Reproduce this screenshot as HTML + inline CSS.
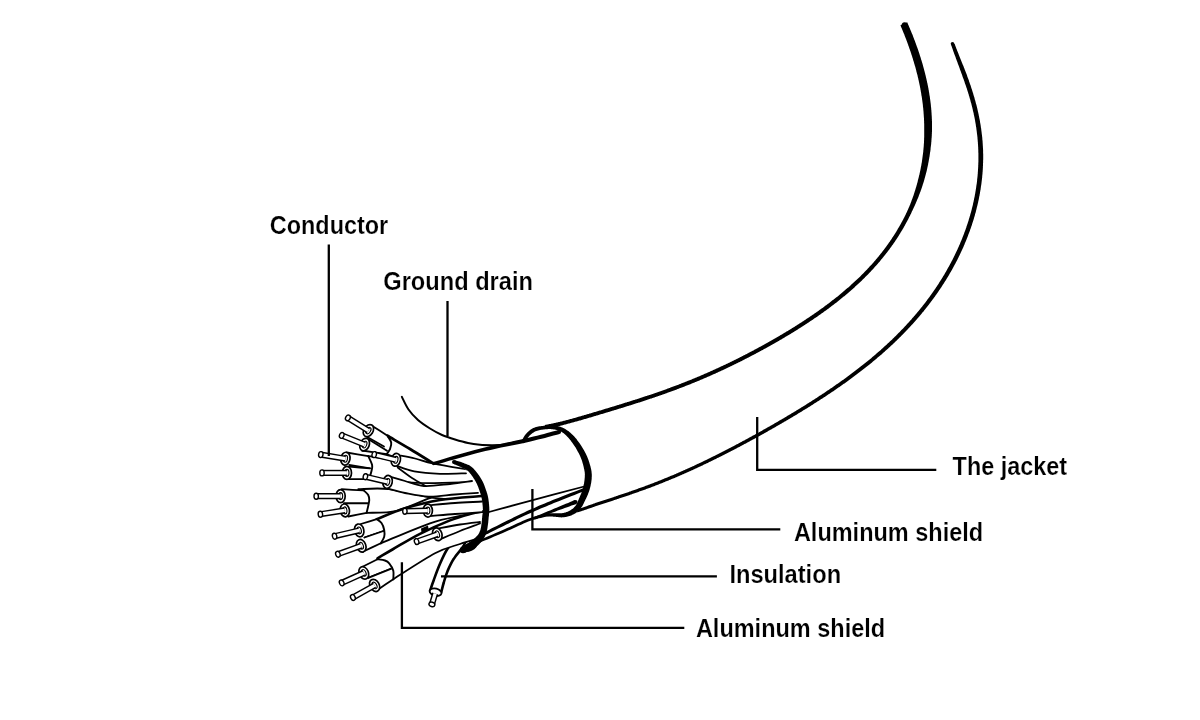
<!DOCTYPE html>
<html><head><meta charset="utf-8"><style>
html,body{margin:0;padding:0;background:#fff;width:1200px;height:720px;overflow:hidden}
svg{display:block;will-change:transform}
text{font-family:"Liberation Sans",sans-serif;font-weight:bold;font-size:25.5px;fill:#000;stroke:#fff;stroke-width:0.2px}
</style></head><body>
<svg width="1200" height="720" viewBox="0 0 1200 720">
<path d="M900.4 25.2 L900.6 25.6 L900.8 26.1 L901.0 26.7 L901.3 27.4 L901.6 28.1 L901.9 28.8 L902.2 29.6 L902.6 30.4 L902.9 31.2 L903.2 32.0 L903.5 32.7 L903.8 33.4 L904.1 34.1 L904.4 34.8 L904.6 35.5 L904.9 36.2 L905.2 36.9 L905.4 37.6 L905.7 38.3 L906.0 39.0 L906.3 39.7 L906.5 40.4 L906.8 41.1 L907.0 41.8 L907.3 42.5 L907.6 43.2 L907.8 43.9 L908.1 44.6 L908.3 45.4 L908.6 46.1 L908.8 46.8 L909.1 47.5 L909.3 48.2 L909.6 48.9 L909.8 49.6 L910.1 50.4 L910.3 51.1 L910.6 51.8 L910.8 52.5 L911.1 53.2 L911.3 54.0 L911.5 54.7 L911.8 55.4 L912.0 56.1 L912.2 56.8 L912.4 57.6 L912.7 58.3 L912.9 59.0 L913.1 59.7 L913.3 60.5 L913.6 61.2 L913.8 61.9 L914.0 62.6 L914.2 63.4 L914.4 64.1 L914.6 64.8 L914.8 65.6 L915.1 66.3 L915.3 67.0 L915.5 67.7 L915.7 68.5 L915.9 69.2 L916.1 69.9 L916.3 70.7 L916.4 71.4 L916.6 72.1 L916.8 72.9 L917.0 73.6 L917.2 74.3 L917.4 75.1 L917.6 75.8 L917.7 76.5 L917.9 77.3 L918.1 78.0 L918.3 78.7 L918.4 79.5 L918.6 80.2 L918.8 80.9 L918.9 81.7 L919.1 82.4 L919.2 83.1 L919.4 83.9 L919.5 84.6 L919.7 85.3 L919.8 86.1 L920.0 86.8 L920.1 87.5 L920.3 88.3 L920.4 89.0 L920.5 89.8 L920.7 90.5 L920.8 91.2 L920.9 92.0 L921.1 92.7 L921.2 93.4 L921.3 94.2 L921.4 94.9 L921.5 95.7 L921.7 96.4 L921.8 97.1 L921.9 97.9 L922.0 98.6 L922.1 99.4 L922.2 100.1 L922.3 100.8 L922.4 101.6 L922.5 102.3 L922.6 103.1 L922.7 103.8 L922.8 104.5 L922.9 105.3 L922.9 106.0 L923.0 106.8 L923.1 107.5 L923.2 108.2 L923.3 109.0 L923.3 109.7 L923.4 110.5 L923.5 111.2 L923.5 111.9 L923.6 112.7 L923.6 113.4 L923.7 114.2 L923.7 114.9 L923.8 115.7 L923.8 116.4 L923.9 117.1 L923.9 117.9 L924.0 118.6 L924.0 119.4 L924.0 120.1 L924.1 120.9 L924.1 121.6 L924.1 122.3 L924.1 123.1 L924.2 123.8 L924.2 124.6 L924.2 125.3 L924.2 126.1 L924.2 126.8 L924.2 127.5 L924.2 128.3 L924.2 129.0 L924.2 129.8 L924.2 130.5 L924.2 131.3 L924.2 132.0 L924.2 132.7 L924.2 133.5 L924.2 134.2 L924.2 135.0 L924.2 135.7 L924.2 136.5 L924.2 137.2 L924.1 138.0 L924.1 138.7 L924.1 139.4 L924.1 140.2 L924.0 140.9 L924.0 141.7 L924.0 142.4 L923.9 143.2 L923.9 143.9 L923.8 144.6 L923.8 145.4 L923.7 146.1 L923.7 146.9 L923.6 147.6 L923.5 148.4 L923.5 149.1 L923.4 149.8 L923.3 150.6 L923.3 151.3 L923.2 152.1 L923.1 152.8 L923.0 153.6 L922.9 154.3 L922.8 155.0 L922.7 155.8 L922.6 156.5 L922.5 157.3 L922.4 158.0 L922.3 158.7 L922.2 159.5 L922.1 160.2 L922.0 161.0 L921.9 161.7 L921.8 162.4 L921.6 163.2 L921.5 163.9 L921.4 164.6 L921.3 165.4 L921.1 166.1 L921.0 166.9 L920.8 167.6 L920.7 168.3 L920.6 169.1 L920.4 169.8 L920.3 170.5 L920.1 171.3 L919.9 172.0 L919.8 172.7 L919.6 173.5 L919.5 174.2 L919.3 174.9 L919.1 175.6 L918.9 176.4 L918.8 177.1 L918.6 177.8 L918.4 178.6 L918.2 179.3 L918.0 180.0 L917.8 180.7 L917.7 181.5 L917.5 182.2 L917.3 182.9 L917.1 183.6 L916.9 184.4 L916.7 185.1 L916.5 185.8 L916.3 186.5 L916.1 187.3 L915.8 188.0 L915.6 188.7 L915.4 189.4 L915.2 190.1 L915.0 190.9 L914.7 191.6 L914.5 192.3 L914.3 193.0 L914.0 193.7 L913.8 194.4 L913.6 195.2 L913.3 195.9 L913.1 196.6 L912.8 197.3 L912.6 198.0 L912.3 198.7 L912.0 199.4 L911.8 200.1 L911.5 200.8 L911.3 201.5 L911.0 202.2 L910.7 202.9 L910.4 203.7 L910.2 204.4 L909.9 205.1 L909.6 205.8 L909.3 206.5 L909.0 207.2 L908.7 207.8 L908.4 208.5 L908.1 209.2 L907.8 209.9 L907.5 210.6 L907.2 211.3 L906.9 212.0 L906.5 212.7 L906.2 213.3 L905.9 214.0 L905.6 214.7 L905.2 215.4 L904.9 216.1 L904.6 216.7 L904.2 217.4 L903.9 218.1 L903.5 218.7 L903.2 219.4 L902.8 220.1 L902.5 220.7 L902.1 221.4 L901.7 222.1 L901.4 222.7 L901.0 223.4 L900.7 224.1 L900.3 224.7 L899.9 225.4 L899.5 226.0 L899.2 226.7 L898.8 227.3 L898.4 228.0 L898.0 228.6 L897.6 229.3 L897.3 229.9 L896.9 230.6 L896.5 231.2 L896.1 231.9 L895.7 232.5 L895.3 233.2 L894.9 233.8 L894.5 234.4 L894.1 235.1 L893.7 235.7 L893.3 236.3 L892.8 237.0 L892.4 237.6 L892.0 238.2 L891.6 238.9 L891.2 239.5 L890.8 240.1 L890.3 240.7 L889.9 241.4 L889.5 242.0 L889.0 242.6 L888.6 243.2 L888.2 243.8 L887.7 244.4 L887.3 245.1 L886.8 245.7 L886.4 246.3 L886.0 246.9 L885.5 247.5 L885.1 248.1 L884.6 248.7 L884.2 249.3 L883.7 249.9 L883.2 250.5 L882.8 251.1 L882.3 251.7 L881.9 252.3 L881.4 252.9 L880.9 253.5 L880.4 254.1 L880.0 254.7 L879.5 255.2 L879.0 255.8 L878.6 256.4 L878.1 257.0 L877.6 257.6 L877.1 258.2 L876.6 258.7 L876.1 259.3 L875.6 259.9 L875.2 260.4 L874.7 261.0 L874.2 261.6 L873.7 262.2 L873.2 262.7 L872.7 263.3 L872.2 263.9 L871.7 264.4 L871.2 265.0 L870.7 265.5 L870.1 266.1 L869.6 266.6 L869.1 267.2 L868.6 267.7 L868.1 268.3 L867.6 268.8 L867.1 269.4 L866.5 269.9 L866.0 270.5 L865.5 271.0 L865.0 271.6 L864.5 272.1 L863.9 272.7 L863.4 273.2 L862.9 273.7 L862.3 274.3 L861.8 274.8 L861.3 275.3 L860.7 275.9 L860.2 276.4 L859.7 276.9 L859.1 277.4 L858.6 278.0 L858.0 278.5 L857.5 279.0 L856.9 279.5 L856.4 280.0 L855.8 280.6 L855.3 281.1 L854.7 281.6 L854.2 282.1 L853.6 282.6 L853.1 283.1 L852.5 283.6 L852.0 284.1 L851.4 284.6 L850.8 285.1 L850.3 285.7 L849.7 286.2 L849.1 286.7 L848.6 287.2 L848.0 287.7 L847.4 288.1 L846.9 288.6 L846.3 289.1 L845.7 289.6 L845.1 290.1 L844.6 290.6 L844.0 291.1 L843.4 291.6 L842.8 292.1 L842.3 292.6 L841.7 293.0 L841.1 293.5 L840.5 294.0 L839.9 294.5 L839.3 295.0 L838.8 295.4 L838.2 295.9 L837.6 296.4 L837.0 296.9 L836.4 297.3 L835.8 297.8 L835.2 298.3 L834.6 298.7 L834.0 299.2 L833.4 299.7 L832.8 300.1 L832.2 300.6 L831.6 301.1 L831.0 301.5 L830.4 302.0 L829.8 302.4 L829.2 302.9 L828.6 303.4 L828.0 303.8 L827.4 304.3 L826.8 304.7 L826.2 305.2 L825.6 305.6 L825.0 306.1 L824.4 306.5 L823.8 307.0 L823.2 307.4 L822.6 307.9 L821.9 308.3 L821.3 308.7 L820.7 309.2 L820.1 309.6 L819.5 310.1 L818.9 310.5 L818.3 310.9 L817.6 311.4 L817.0 311.8 L816.4 312.2 L815.8 312.7 L815.2 313.1 L814.5 313.5 L813.9 314.0 L813.3 314.4 L812.7 314.8 L812.0 315.3 L811.4 315.7 L810.8 316.1 L810.2 316.5 L809.5 317.0 L808.9 317.4 L808.3 317.8 L807.6 318.2 L807.0 318.6 L806.4 319.1 L805.7 319.5 L805.1 319.9 L804.5 320.3 L803.8 320.7 L803.2 321.2 L802.6 321.6 L801.9 322.0 L801.3 322.4 L800.7 322.8 L800.0 323.2 L799.4 323.6 L798.7 324.0 L798.1 324.4 L797.5 324.8 L796.8 325.3 L796.2 325.7 L795.5 326.1 L794.9 326.5 L794.3 326.9 L793.6 327.3 L793.0 327.7 L792.3 328.1 L791.7 328.5 L791.0 328.9 L790.4 329.3 L789.7 329.7 L789.1 330.1 L788.4 330.5 L787.8 330.9 L787.1 331.2 L786.5 331.6 L785.8 332.0 L785.2 332.4 L784.5 332.8 L783.9 333.2 L783.2 333.6 L782.6 334.0 L781.9 334.4 L781.3 334.8 L780.6 335.1 L780.0 335.5 L779.3 335.9 L778.7 336.3 L778.0 336.7 L777.4 337.1 L776.7 337.4 L776.0 337.8 L775.4 338.2 L774.7 338.6 L774.1 339.0 L773.4 339.3 L772.7 339.7 L772.1 340.1 L771.4 340.5 L770.8 340.8 L770.1 341.2 L769.4 341.6 L768.8 342.0 L768.1 342.3 L767.5 342.7 L766.8 343.1 L766.1 343.5 L765.5 343.8 L764.8 344.2 L764.1 344.6 L763.5 344.9 L762.8 345.3 L762.1 345.7 L761.5 346.0 L760.8 346.4 L760.1 346.8 L759.5 347.1 L758.8 347.5 L758.1 347.8 L757.5 348.2 L756.8 348.6 L756.1 348.9 L755.5 349.3 L754.8 349.6 L754.1 350.0 L753.5 350.4 L752.8 350.7 L752.1 351.1 L751.4 351.4 L750.8 351.8 L750.1 352.1 L749.4 352.5 L748.7 352.8 L748.1 353.2 L747.4 353.5 L746.7 353.9 L746.1 354.2 L745.4 354.6 L744.7 354.9 L744.0 355.3 L743.4 355.6 L742.7 356.0 L742.0 356.3 L741.3 356.7 L740.6 357.0 L740.0 357.3 L739.3 357.7 L738.6 358.0 L737.9 358.4 L737.2 358.7 L736.6 359.0 L735.9 359.4 L735.2 359.7 L734.5 360.1 L733.8 360.4 L733.2 360.7 L732.5 361.1 L731.8 361.4 L731.1 361.7 L730.4 362.1 L729.8 362.4 L729.1 362.7 L728.4 363.0 L727.7 363.4 L727.0 363.7 L726.3 364.0 L725.6 364.4 L725.0 364.7 L724.3 365.0 L723.6 365.3 L722.9 365.7 L722.2 366.0 L721.5 366.3 L720.8 366.6 L720.2 366.9 L719.5 367.3 L718.8 367.6 L718.1 367.9 L717.4 368.2 L716.7 368.5 L716.0 368.8 L715.3 369.2 L714.6 369.5 L714.0 369.8 L713.3 370.1 L712.6 370.4 L711.9 370.7 L711.2 371.0 L710.5 371.3 L709.8 371.7 L709.1 372.0 L708.4 372.3 L707.7 372.6 L707.0 372.9 L706.3 373.2 L705.6 373.5 L704.9 373.8 L704.2 374.1 L703.5 374.4 L702.8 374.7 L702.2 375.0 L701.5 375.3 L700.8 375.6 L700.1 375.9 L699.4 376.2 L698.7 376.5 L698.0 376.8 L697.3 377.1 L696.6 377.4 L695.9 377.6 L695.2 377.9 L694.5 378.2 L693.8 378.5 L693.1 378.8 L692.4 379.1 L691.7 379.4 L691.0 379.7 L690.3 379.9 L689.6 380.2 L688.9 380.5 L688.1 380.8 L687.4 381.1 L686.7 381.4 L686.0 381.6 L685.3 381.9 L684.6 382.2 L683.9 382.5 L683.2 382.8 L682.5 383.0 L681.8 383.3 L681.1 383.6 L680.4 383.9 L679.7 384.1 L679.0 384.4 L678.3 384.7 L677.6 384.9 L676.8 385.2 L676.1 385.5 L675.4 385.7 L674.7 386.0 L674.0 386.3 L673.3 386.5 L672.6 386.8 L671.9 387.1 L671.2 387.3 L670.5 387.6 L669.7 387.9 L669.0 388.1 L668.3 388.4 L667.6 388.6 L666.9 388.9 L666.2 389.2 L665.5 389.4 L664.8 389.7 L664.0 389.9 L663.3 390.2 L662.6 390.4 L661.9 390.7 L661.2 390.9 L660.5 391.2 L659.7 391.4 L659.0 391.7 L658.3 391.9 L657.6 392.2 L656.9 392.4 L656.2 392.7 L655.4 392.9 L654.7 393.2 L654.0 393.4 L653.3 393.7 L652.6 393.9 L651.9 394.2 L651.1 394.4 L650.4 394.7 L649.7 394.9 L649.0 395.1 L648.3 395.4 L647.5 395.6 L646.8 395.9 L646.1 396.1 L645.4 396.3 L644.7 396.6 L643.9 396.8 L643.2 397.0 L642.5 397.3 L641.8 397.5 L641.0 397.8 L640.3 398.0 L639.6 398.2 L638.9 398.5 L638.2 398.7 L637.4 398.9 L636.7 399.2 L636.0 399.4 L635.3 399.6 L634.5 399.9 L633.8 400.1 L633.1 400.3 L632.4 400.5 L631.6 400.8 L630.9 401.0 L630.2 401.2 L629.5 401.5 L628.7 401.7 L628.0 401.9 L627.3 402.1 L626.6 402.4 L625.8 402.6 L625.1 402.8 L624.4 403.1 L623.7 403.3 L622.9 403.5 L622.2 403.7 L621.5 404.0 L620.7 404.2 L620.0 404.4 L619.3 404.6 L618.6 404.9 L617.8 405.1 L617.1 405.3 L616.4 405.5 L615.7 405.7 L614.9 406.0 L614.2 406.2 L613.5 406.4 L612.7 406.6 L612.0 406.9 L611.3 407.1 L610.6 407.3 L609.8 407.5 L609.1 407.7 L608.4 408.0 L607.6 408.2 L606.9 408.4 L606.2 408.6 L605.5 408.8 L604.7 409.1 L604.0 409.3 L603.3 409.5 L602.5 409.7 L601.8 409.9 L601.1 410.2 L600.4 410.4 L599.6 410.6 L598.9 410.8 L598.2 411.0 L597.4 411.3 L596.7 411.5 L596.0 411.7 L595.3 411.9 L594.5 412.1 L593.8 412.3 L593.1 412.6 L592.3 412.8 L591.6 413.0 L590.9 413.2 L590.1 413.4 L589.4 413.6 L588.7 413.9 L588.0 414.1 L587.2 414.3 L586.5 414.5 L585.8 414.7 L585.0 414.9 L584.3 415.1 L583.6 415.4 L582.8 415.6 L582.1 415.8 L581.4 416.0 L580.7 416.2 L579.9 416.4 L579.2 416.6 L578.5 416.8 L577.7 417.0 L577.0 417.3 L576.3 417.5 L575.5 417.7 L574.8 417.9 L574.1 418.1 L573.4 418.3 L572.6 418.5 L571.9 418.7 L571.2 418.9 L570.4 419.1 L569.7 419.3 L569.0 419.5 L568.2 419.7 L567.5 419.9 L566.8 420.1 L566.0 420.3 L565.3 420.5 L564.6 420.7 L563.8 420.8 L563.1 421.0 L562.4 421.2 L561.7 421.4 L560.9 421.6 L560.2 421.8 L559.4 421.9 L558.7 422.1 L558.0 422.3 L557.2 422.5 L556.5 422.6 L555.8 422.8 L555.0 423.0 L554.3 423.1 L553.6 423.3 L552.8 423.5 L552.0 423.6 L551.2 423.8 L550.3 424.0 L549.4 424.1 L548.6 424.3 L547.8 424.5 L547.0 424.6 L546.3 424.7 L545.6 424.8 L545.1 425.0 L544.7 425.0 L545.4 428.9 L545.8 428.8 L546.4 428.7 L547.0 428.6 L547.7 428.4 L548.5 428.3 L549.3 428.1 L550.2 428.0 L551.0 427.8 L551.9 427.6 L552.8 427.5 L553.6 427.3 L554.4 427.1 L555.1 427.0 L555.9 426.8 L556.6 426.6 L557.4 426.4 L558.1 426.3 L558.9 426.1 L559.6 425.9 L560.4 425.7 L561.1 425.6 L561.9 425.4 L562.6 425.2 L563.3 425.0 L564.1 424.8 L564.8 424.6 L565.6 424.4 L566.3 424.2 L567.0 424.0 L567.8 423.8 L568.5 423.6 L569.3 423.4 L570.0 423.3 L570.7 423.1 L571.5 422.8 L572.2 422.6 L572.9 422.4 L573.7 422.2 L574.4 422.0 L575.1 421.8 L575.9 421.6 L576.6 421.4 L577.3 421.2 L578.1 421.0 L578.8 420.8 L579.5 420.6 L580.3 420.4 L581.0 420.2 L581.7 420.0 L582.5 419.7 L583.2 419.5 L583.9 419.3 L584.7 419.1 L585.4 418.9 L586.1 418.7 L586.9 418.5 L587.6 418.2 L588.3 418.0 L589.1 417.8 L589.8 417.6 L590.5 417.4 L591.3 417.2 L592.0 417.0 L592.7 416.7 L593.4 416.5 L594.2 416.3 L594.9 416.1 L595.6 415.9 L596.4 415.6 L597.1 415.4 L597.8 415.2 L598.6 415.0 L599.3 414.8 L600.0 414.6 L600.7 414.3 L601.5 414.1 L602.2 413.9 L602.9 413.7 L603.7 413.5 L604.4 413.2 L605.1 413.0 L605.9 412.8 L606.6 412.6 L607.3 412.4 L608.0 412.1 L608.8 411.9 L609.5 411.7 L610.2 411.5 L611.0 411.3 L611.7 411.0 L612.4 410.8 L613.2 410.6 L613.9 410.4 L614.6 410.1 L615.3 409.9 L616.1 409.7 L616.8 409.5 L617.5 409.3 L618.3 409.0 L619.0 408.8 L619.7 408.6 L620.4 408.4 L621.2 408.1 L621.9 407.9 L622.6 407.7 L623.4 407.5 L624.1 407.2 L624.8 407.0 L625.5 406.8 L626.3 406.6 L627.0 406.3 L627.7 406.1 L628.4 405.9 L629.2 405.6 L629.9 405.4 L630.6 405.2 L631.4 405.0 L632.1 404.7 L632.8 404.5 L633.5 404.3 L634.3 404.0 L635.0 403.8 L635.7 403.6 L636.4 403.3 L637.2 403.1 L637.9 402.9 L638.6 402.6 L639.4 402.4 L640.1 402.2 L640.8 401.9 L641.5 401.7 L642.3 401.5 L643.0 401.2 L643.7 401.0 L644.4 400.8 L645.2 400.5 L645.9 400.3 L646.6 400.0 L647.3 399.8 L648.0 399.6 L648.8 399.3 L649.5 399.1 L650.2 398.8 L650.9 398.6 L651.7 398.4 L652.4 398.1 L653.1 397.9 L653.8 397.6 L654.6 397.4 L655.3 397.1 L656.0 396.9 L656.7 396.6 L657.4 396.4 L658.2 396.1 L658.9 395.9 L659.6 395.6 L660.3 395.4 L661.0 395.1 L661.8 394.9 L662.5 394.6 L663.2 394.4 L663.9 394.1 L664.6 393.9 L665.4 393.6 L666.1 393.4 L666.8 393.1 L667.5 392.8 L668.2 392.6 L668.9 392.3 L669.7 392.1 L670.4 391.8 L671.1 391.5 L671.8 391.3 L672.5 391.0 L673.2 390.7 L674.0 390.5 L674.7 390.2 L675.4 389.9 L676.1 389.7 L676.8 389.4 L677.5 389.1 L678.2 388.9 L678.9 388.6 L679.7 388.3 L680.4 388.1 L681.1 387.8 L681.8 387.5 L682.5 387.2 L683.2 387.0 L683.9 386.7 L684.6 386.4 L685.4 386.1 L686.1 385.8 L686.8 385.6 L687.5 385.3 L688.2 385.0 L688.9 384.7 L689.6 384.4 L690.3 384.2 L691.0 383.9 L691.7 383.6 L692.4 383.3 L693.1 383.0 L693.8 382.7 L694.6 382.4 L695.3 382.1 L696.0 381.9 L696.7 381.6 L697.4 381.3 L698.1 381.0 L698.8 380.7 L699.5 380.4 L700.2 380.1 L700.9 379.8 L701.6 379.5 L702.3 379.2 L703.0 378.9 L703.7 378.6 L704.4 378.3 L705.1 378.0 L705.8 377.7 L706.5 377.4 L707.2 377.1 L707.9 376.8 L708.6 376.5 L709.3 376.2 L710.0 375.9 L710.7 375.6 L711.4 375.3 L712.1 374.9 L712.8 374.6 L713.5 374.3 L714.2 374.0 L714.9 373.7 L715.6 373.4 L716.3 373.1 L717.0 372.8 L717.7 372.4 L718.4 372.1 L719.0 371.8 L719.7 371.5 L720.4 371.2 L721.1 370.8 L721.8 370.5 L722.5 370.2 L723.2 369.9 L723.9 369.6 L724.6 369.2 L725.3 368.9 L726.0 368.6 L726.7 368.3 L727.3 367.9 L728.0 367.6 L728.7 367.3 L729.4 366.9 L730.1 366.6 L730.8 366.3 L731.5 365.9 L732.2 365.6 L732.9 365.3 L733.5 364.9 L734.2 364.6 L734.9 364.3 L735.6 363.9 L736.3 363.6 L737.0 363.3 L737.6 362.9 L738.3 362.6 L739.0 362.2 L739.7 361.9 L740.4 361.6 L741.1 361.2 L741.7 360.9 L742.4 360.5 L743.1 360.2 L743.8 359.8 L744.5 359.5 L745.2 359.1 L745.8 358.8 L746.5 358.5 L747.2 358.1 L747.9 357.8 L748.5 357.4 L749.2 357.1 L749.9 356.7 L750.6 356.3 L751.3 356.0 L751.9 355.6 L752.6 355.3 L753.3 354.9 L754.0 354.6 L754.6 354.2 L755.3 353.9 L756.0 353.5 L756.7 353.1 L757.3 352.8 L758.0 352.4 L758.7 352.1 L759.4 351.7 L760.0 351.3 L760.7 351.0 L761.4 350.6 L762.0 350.2 L762.7 349.9 L763.4 349.5 L764.1 349.1 L764.7 348.8 L765.4 348.4 L766.1 348.0 L766.7 347.7 L767.4 347.3 L768.1 346.9 L768.7 346.6 L769.4 346.2 L770.1 345.8 L770.7 345.4 L771.4 345.1 L772.1 344.7 L772.7 344.3 L773.4 343.9 L774.1 343.6 L774.7 343.2 L775.4 342.8 L776.0 342.4 L776.7 342.0 L777.4 341.7 L778.0 341.3 L778.7 340.9 L779.4 340.5 L780.0 340.1 L780.7 339.7 L781.3 339.4 L782.0 339.0 L782.7 338.6 L783.3 338.2 L784.0 337.8 L784.6 337.4 L785.3 337.0 L785.9 336.6 L786.6 336.2 L787.3 335.8 L787.9 335.5 L788.6 335.1 L789.2 334.7 L789.9 334.3 L790.5 333.9 L791.2 333.5 L791.8 333.1 L792.5 332.7 L793.1 332.3 L793.8 331.9 L794.4 331.5 L795.1 331.1 L795.7 330.7 L796.4 330.3 L797.0 329.9 L797.7 329.5 L798.3 329.0 L799.0 328.6 L799.6 328.2 L800.3 327.8 L800.9 327.4 L801.5 327.0 L802.2 326.6 L802.8 326.2 L803.5 325.8 L804.1 325.3 L804.8 324.9 L805.4 324.5 L806.0 324.1 L806.7 323.7 L807.3 323.3 L808.0 322.8 L808.6 322.4 L809.2 322.0 L809.9 321.6 L810.5 321.1 L811.1 320.7 L811.8 320.3 L812.4 319.9 L813.0 319.4 L813.7 319.0 L814.3 318.6 L814.9 318.1 L815.6 317.7 L816.2 317.3 L816.8 316.9 L817.4 316.4 L818.1 316.0 L818.7 315.5 L819.3 315.1 L819.9 314.7 L820.6 314.2 L821.2 313.8 L821.8 313.3 L822.4 312.9 L823.1 312.5 L823.7 312.0 L824.3 311.6 L824.9 311.1 L825.5 310.7 L826.2 310.2 L826.8 309.8 L827.4 309.3 L828.0 308.9 L828.6 308.4 L829.2 307.9 L829.8 307.5 L830.5 307.0 L831.1 306.6 L831.7 306.1 L832.3 305.6 L832.9 305.2 L833.5 304.7 L834.1 304.3 L834.7 303.8 L835.3 303.3 L835.9 302.9 L836.5 302.4 L837.1 301.9 L837.7 301.4 L838.3 301.0 L838.9 300.5 L839.5 300.0 L840.1 299.5 L840.7 299.1 L841.3 298.6 L841.9 298.1 L842.5 297.6 L843.1 297.1 L843.7 296.6 L844.3 296.2 L844.9 295.7 L845.4 295.2 L846.0 294.7 L846.6 294.2 L847.2 293.7 L847.8 293.2 L848.4 292.7 L848.9 292.2 L849.5 291.7 L850.1 291.2 L850.7 290.7 L851.2 290.2 L851.8 289.7 L852.4 289.2 L853.0 288.7 L853.5 288.2 L854.1 287.7 L854.7 287.2 L855.2 286.6 L855.8 286.1 L856.4 285.6 L856.9 285.1 L857.5 284.6 L858.1 284.0 L858.6 283.5 L859.2 283.0 L859.7 282.5 L860.3 282.0 L860.8 281.4 L861.4 280.9 L861.9 280.4 L862.5 279.8 L863.0 279.3 L863.6 278.8 L864.1 278.2 L864.7 277.7 L865.2 277.1 L865.8 276.6 L866.3 276.1 L866.8 275.5 L867.4 275.0 L867.9 274.4 L868.4 273.9 L869.0 273.3 L869.5 272.8 L870.0 272.2 L870.6 271.7 L871.1 271.1 L871.6 270.5 L872.1 270.0 L872.6 269.4 L873.2 268.9 L873.7 268.3 L874.2 267.7 L874.7 267.1 L875.2 266.6 L875.7 266.0 L876.2 265.4 L876.7 264.9 L877.3 264.3 L877.8 263.7 L878.3 263.1 L878.8 262.5 L879.3 262.0 L879.8 261.4 L880.3 260.8 L880.7 260.2 L881.2 259.6 L881.7 259.0 L882.2 258.4 L882.7 257.8 L883.2 257.2 L883.7 256.6 L884.1 256.0 L884.6 255.5 L885.1 254.8 L885.6 254.2 L886.1 253.6 L886.5 253.0 L887.0 252.4 L887.5 251.8 L887.9 251.2 L888.4 250.6 L888.9 250.0 L889.3 249.4 L889.8 248.7 L890.2 248.1 L890.7 247.5 L891.1 246.9 L891.6 246.3 L892.0 245.6 L892.5 245.0 L892.9 244.4 L893.4 243.8 L893.8 243.1 L894.2 242.5 L894.7 241.9 L895.1 241.2 L895.5 240.6 L896.0 239.9 L896.4 239.3 L896.8 238.7 L897.2 238.0 L897.6 237.4 L898.1 236.7 L898.5 236.1 L898.9 235.4 L899.3 234.8 L899.7 234.1 L900.1 233.5 L900.5 232.8 L900.9 232.1 L901.3 231.5 L901.7 230.8 L902.1 230.2 L902.5 229.5 L902.9 228.8 L903.3 228.2 L903.7 227.5 L904.0 226.8 L904.4 226.2 L904.8 225.5 L905.2 224.8 L905.5 224.1 L905.9 223.5 L906.3 222.8 L906.6 222.1 L907.0 221.4 L907.4 220.8 L907.7 220.1 L908.1 219.4 L908.4 218.7 L908.8 218.0 L909.1 217.3 L909.5 216.6 L909.8 215.9 L910.2 215.2 L910.5 214.6 L910.8 213.9 L911.2 213.2 L911.5 212.5 L911.8 211.8 L912.1 211.1 L912.5 210.4 L912.8 209.7 L913.1 209.0 L913.5 208.3 L913.8 207.6 L914.1 206.9 L914.4 206.2 L914.8 205.5 L915.1 204.8 L915.4 204.1 L915.7 203.4 L916.0 202.6 L916.3 201.9 L916.6 201.2 L916.9 200.5 L917.2 199.8 L917.5 199.1 L917.8 198.4 L918.1 197.7 L918.4 196.9 L918.7 196.2 L918.9 195.5 L919.2 194.8 L919.5 194.1 L919.8 193.3 L920.0 192.6 L920.3 191.9 L920.6 191.2 L920.8 190.4 L921.1 189.7 L921.4 189.0 L921.6 188.2 L921.9 187.5 L922.1 186.8 L922.4 186.0 L922.6 185.3 L922.8 184.6 L923.1 183.8 L923.3 183.1 L923.5 182.4 L923.8 181.6 L924.0 180.9 L924.2 180.1 L924.4 179.4 L924.6 178.6 L924.8 177.9 L925.0 177.2 L925.2 176.4 L925.4 175.7 L925.6 174.9 L925.8 174.2 L926.0 173.4 L926.2 172.7 L926.4 171.9 L926.6 171.2 L926.8 170.4 L926.9 169.7 L927.1 168.9 L927.3 168.1 L927.4 167.4 L927.6 166.6 L927.8 165.9 L927.9 165.1 L928.1 164.4 L928.2 163.6 L928.4 162.8 L928.5 162.1 L928.7 161.3 L928.8 160.6 L928.9 159.8 L929.1 159.0 L929.2 158.3 L929.3 157.5 L929.5 156.8 L929.6 156.0 L929.7 155.2 L929.8 154.5 L929.9 153.7 L930.0 152.9 L930.1 152.2 L930.3 151.4 L930.4 150.6 L930.5 149.9 L930.6 149.1 L930.6 148.3 L930.7 147.6 L930.8 146.8 L930.9 146.0 L931.0 145.3 L931.1 144.5 L931.2 143.7 L931.2 143.0 L931.3 142.2 L931.4 141.4 L931.4 140.6 L931.5 139.9 L931.5 139.1 L931.6 138.3 L931.7 137.6 L931.7 136.8 L931.8 136.0 L931.8 135.2 L931.8 134.5 L931.9 133.7 L931.9 132.9 L931.9 132.2 L932.0 131.4 L932.0 130.6 L932.0 129.8 L932.0 129.1 L932.0 128.3 L932.0 127.5 L932.0 126.8 L932.0 126.0 L932.0 125.2 L932.0 124.4 L932.0 123.7 L932.0 122.9 L932.0 122.1 L932.0 121.3 L931.9 120.6 L931.9 119.8 L931.9 119.0 L931.8 118.3 L931.8 117.5 L931.8 116.7 L931.7 115.9 L931.7 115.2 L931.6 114.4 L931.6 113.6 L931.5 112.9 L931.5 112.1 L931.4 111.3 L931.4 110.5 L931.3 109.8 L931.2 109.0 L931.2 108.2 L931.1 107.5 L931.0 106.7 L930.9 105.9 L930.9 105.2 L930.8 104.4 L930.7 103.6 L930.6 102.9 L930.5 102.1 L930.4 101.3 L930.3 100.5 L930.2 99.8 L930.1 99.0 L930.0 98.2 L929.9 97.5 L929.8 96.7 L929.7 95.9 L929.5 95.2 L929.4 94.4 L929.3 93.7 L929.2 92.9 L929.0 92.1 L928.9 91.4 L928.8 90.6 L928.6 89.8 L928.5 89.1 L928.4 88.3 L928.2 87.5 L928.1 86.8 L927.9 86.0 L927.8 85.3 L927.6 84.5 L927.5 83.7 L927.3 83.0 L927.1 82.2 L927.0 81.5 L926.8 80.7 L926.6 79.9 L926.5 79.2 L926.3 78.4 L926.1 77.7 L925.9 76.9 L925.8 76.2 L925.6 75.4 L925.4 74.7 L925.2 73.9 L925.0 73.1 L924.8 72.4 L924.6 71.6 L924.4 70.9 L924.2 70.1 L924.0 69.4 L923.8 68.6 L923.6 67.9 L923.4 67.1 L923.2 66.4 L923.0 65.6 L922.8 64.9 L922.6 64.1 L922.4 63.4 L922.1 62.6 L921.9 61.9 L921.7 61.1 L921.5 60.4 L921.2 59.7 L921.0 58.9 L920.8 58.2 L920.6 57.4 L920.3 56.7 L920.1 55.9 L919.8 55.2 L919.6 54.5 L919.4 53.7 L919.1 53.0 L918.9 52.3 L918.6 51.5 L918.4 50.8 L918.1 50.0 L917.9 49.3 L917.6 48.6 L917.3 47.8 L917.1 47.1 L916.8 46.4 L916.6 45.7 L916.3 44.9 L916.0 44.2 L915.8 43.5 L915.5 42.7 L915.2 42.0 L915.0 41.3 L914.7 40.6 L914.4 39.9 L914.1 39.1 L913.9 38.4 L913.6 37.7 L913.3 37.0 L913.0 36.3 L912.8 35.5 L912.5 34.8 L912.2 34.1 L911.9 33.4 L911.6 32.7 L911.3 32.0 L911.0 31.3 L910.7 30.6 L910.4 29.9 L910.1 29.1 L909.8 28.3 L909.4 27.5 L909.1 26.7 L908.8 25.9 L908.4 25.1 L908.1 24.4 L907.8 23.8 L907.6 23.2 L907.4 22.7 L907.2 22.3Z" fill="#000"/>
<path d="M951.2 45.1 L951.3 45.5 L951.5 46.1 L951.8 46.7 L952.0 47.5 L952.3 48.3 L952.6 49.1 L952.9 50.0 L953.2 50.9 L953.5 51.7 L953.8 52.6 L954.1 53.5 L954.4 54.3 L954.7 55.0 L955.0 55.8 L955.3 56.6 L955.6 57.3 L955.8 58.1 L956.1 58.9 L956.4 59.6 L956.7 60.4 L957.0 61.2 L957.3 62.0 L957.6 62.7 L957.8 63.5 L958.1 64.3 L958.4 65.0 L958.7 65.8 L959.0 66.6 L959.3 67.4 L959.6 68.1 L959.8 68.9 L960.1 69.7 L960.4 70.5 L960.7 71.2 L961.0 72.0 L961.2 72.8 L961.5 73.5 L961.8 74.3 L962.1 75.1 L962.4 75.9 L962.6 76.7 L962.9 77.4 L963.2 78.2 L963.5 79.0 L963.8 79.8 L964.0 80.5 L964.3 81.3 L964.6 82.1 L964.8 82.9 L965.1 83.7 L965.4 84.4 L965.7 85.2 L965.9 86.0 L966.2 86.8 L966.4 87.6 L966.7 88.3 L967.0 89.1 L967.2 89.9 L967.5 90.7 L967.7 91.5 L968.0 92.3 L968.2 93.0 L968.4 93.8 L968.7 94.6 L968.9 95.4 L969.2 96.2 L969.4 97.0 L969.6 97.8 L969.8 98.6 L970.1 99.3 L970.3 100.1 L970.5 100.9 L970.7 101.7 L970.9 102.5 L971.2 103.3 L971.4 104.1 L971.6 104.9 L971.8 105.7 L972.0 106.5 L972.2 107.3 L972.4 108.1 L972.6 108.9 L972.8 109.7 L972.9 110.4 L973.1 111.2 L973.3 112.0 L973.5 112.8 L973.7 113.6 L973.8 114.4 L974.0 115.2 L974.2 116.0 L974.3 116.8 L974.5 117.6 L974.7 118.4 L974.8 119.2 L975.0 120.0 L975.1 120.8 L975.2 121.6 L975.4 122.4 L975.5 123.3 L975.7 124.1 L975.8 124.9 L975.9 125.7 L976.0 126.5 L976.2 127.3 L976.3 128.1 L976.4 128.9 L976.5 129.7 L976.6 130.5 L976.7 131.3 L976.8 132.1 L976.9 132.9 L977.0 133.7 L977.1 134.5 L977.2 135.3 L977.3 136.1 L977.4 136.9 L977.5 137.8 L977.5 138.6 L977.6 139.4 L977.7 140.2 L977.7 141.0 L977.8 141.8 L977.9 142.6 L977.9 143.4 L978.0 144.2 L978.0 145.0 L978.1 145.8 L978.1 146.7 L978.2 147.5 L978.2 148.3 L978.2 149.1 L978.3 149.9 L978.3 150.7 L978.3 151.5 L978.3 152.3 L978.4 153.1 L978.4 153.9 L978.4 154.8 L978.4 155.6 L978.4 156.4 L978.4 157.2 L978.4 158.0 L978.4 158.8 L978.4 159.6 L978.4 160.4 L978.4 161.2 L978.4 162.1 L978.3 162.9 L978.3 163.7 L978.3 164.5 L978.2 165.3 L978.2 166.1 L978.2 166.9 L978.1 167.7 L978.1 168.5 L978.0 169.3 L978.0 170.2 L977.9 171.0 L977.9 171.8 L977.8 172.6 L977.8 173.4 L977.7 174.2 L977.6 175.0 L977.6 175.8 L977.5 176.6 L977.4 177.4 L977.3 178.2 L977.2 179.0 L977.1 179.9 L977.1 180.7 L977.0 181.5 L976.9 182.3 L976.8 183.1 L976.7 183.9 L976.5 184.7 L976.4 185.5 L976.3 186.3 L976.2 187.1 L976.1 187.9 L976.0 188.7 L975.8 189.5 L975.7 190.3 L975.6 191.1 L975.4 191.9 L975.3 192.7 L975.2 193.5 L975.0 194.3 L974.9 195.1 L974.7 195.9 L974.6 196.7 L974.4 197.5 L974.2 198.3 L974.1 199.1 L973.9 199.9 L973.7 200.7 L973.6 201.5 L973.4 202.3 L973.2 203.1 L973.0 203.9 L972.9 204.7 L972.7 205.5 L972.5 206.3 L972.3 207.1 L972.1 207.8 L971.9 208.6 L971.7 209.4 L971.5 210.2 L971.3 211.0 L971.1 211.8 L970.9 212.6 L970.6 213.4 L970.4 214.1 L970.2 214.9 L970.0 215.7 L969.7 216.5 L969.5 217.3 L969.3 218.1 L969.0 218.8 L968.8 219.6 L968.6 220.4 L968.3 221.2 L968.1 222.0 L967.8 222.7 L967.6 223.5 L967.3 224.3 L967.1 225.1 L966.8 225.8 L966.5 226.6 L966.3 227.4 L966.0 228.2 L965.7 228.9 L965.5 229.7 L965.2 230.5 L964.9 231.2 L964.6 232.0 L964.3 232.8 L964.1 233.5 L963.8 234.3 L963.5 235.1 L963.2 235.8 L962.9 236.6 L962.6 237.3 L962.3 238.1 L962.0 238.9 L961.7 239.6 L961.4 240.4 L961.0 241.1 L960.7 241.9 L960.4 242.6 L960.1 243.4 L959.8 244.1 L959.5 244.9 L959.1 245.6 L958.8 246.4 L958.5 247.1 L958.1 247.9 L957.8 248.6 L957.5 249.4 L957.1 250.1 L956.8 250.9 L956.4 251.6 L956.1 252.3 L955.7 253.1 L955.4 253.8 L955.0 254.5 L954.7 255.3 L954.3 256.0 L953.9 256.8 L953.6 257.5 L953.2 258.2 L952.8 258.9 L952.5 259.7 L952.1 260.4 L951.7 261.1 L951.3 261.9 L951.0 262.6 L950.6 263.3 L950.2 264.0 L949.8 264.7 L949.4 265.5 L949.0 266.2 L948.6 266.9 L948.2 267.6 L947.8 268.3 L947.4 269.0 L947.0 269.7 L946.6 270.5 L946.2 271.2 L945.8 271.9 L945.4 272.6 L945.0 273.3 L944.6 274.0 L944.2 274.7 L943.7 275.4 L943.3 276.1 L942.9 276.8 L942.5 277.5 L942.0 278.2 L941.6 278.9 L941.2 279.6 L940.7 280.3 L940.3 281.0 L939.9 281.6 L939.4 282.3 L939.0 283.0 L938.6 283.7 L938.1 284.4 L937.7 285.1 L937.2 285.8 L936.8 286.4 L936.3 287.1 L935.9 287.8 L935.4 288.5 L934.9 289.2 L934.5 289.8 L934.0 290.5 L933.5 291.2 L933.1 291.8 L932.6 292.5 L932.1 293.2 L931.7 293.8 L931.2 294.5 L930.7 295.2 L930.2 295.8 L929.8 296.5 L929.3 297.2 L928.8 297.8 L928.3 298.5 L927.8 299.1 L927.3 299.8 L926.9 300.4 L926.4 301.1 L925.9 301.7 L925.4 302.4 L924.9 303.0 L924.4 303.7 L923.9 304.3 L923.4 305.0 L922.9 305.6 L922.4 306.2 L921.9 306.9 L921.3 307.5 L920.8 308.2 L920.3 308.8 L919.8 309.4 L919.3 310.1 L918.8 310.7 L918.3 311.3 L917.7 311.9 L917.2 312.6 L916.7 313.2 L916.2 313.8 L915.6 314.4 L915.1 315.1 L914.6 315.7 L914.0 316.3 L913.5 316.9 L913.0 317.5 L912.4 318.1 L911.9 318.8 L911.4 319.4 L910.8 320.0 L910.3 320.6 L909.7 321.2 L909.2 321.8 L908.6 322.4 L908.1 323.0 L907.5 323.6 L907.0 324.2 L906.4 324.8 L905.9 325.4 L905.3 326.0 L904.8 326.6 L904.2 327.2 L903.7 327.8 L903.1 328.4 L902.5 329.0 L902.0 329.6 L901.4 330.1 L900.8 330.7 L900.3 331.3 L899.7 331.9 L899.1 332.5 L898.5 333.1 L898.0 333.6 L897.4 334.2 L896.8 334.8 L896.2 335.4 L895.7 335.9 L895.1 336.5 L894.5 337.1 L893.9 337.7 L893.3 338.2 L892.7 338.8 L892.2 339.4 L891.6 339.9 L891.0 340.5 L890.4 341.0 L889.8 341.6 L889.2 342.2 L888.6 342.7 L888.0 343.3 L887.4 343.8 L886.8 344.4 L886.2 344.9 L885.6 345.5 L885.0 346.1 L884.4 346.6 L883.8 347.1 L883.2 347.7 L882.6 348.2 L882.0 348.8 L881.4 349.3 L880.8 349.9 L880.2 350.4 L879.5 351.0 L878.9 351.5 L878.3 352.0 L877.7 352.6 L877.1 353.1 L876.5 353.6 L875.8 354.2 L875.2 354.7 L874.6 355.2 L874.0 355.8 L873.4 356.3 L872.7 356.8 L872.1 357.3 L871.5 357.9 L870.9 358.4 L870.2 358.9 L869.6 359.4 L869.0 359.9 L868.3 360.5 L867.7 361.0 L867.1 361.5 L866.4 362.0 L865.8 362.5 L865.2 363.0 L864.5 363.6 L863.9 364.1 L863.3 364.6 L862.6 365.1 L862.0 365.6 L861.3 366.1 L860.7 366.6 L860.0 367.1 L859.4 367.6 L858.8 368.1 L858.1 368.6 L857.5 369.1 L856.8 369.6 L856.2 370.1 L855.5 370.6 L854.9 371.1 L854.2 371.6 L853.6 372.1 L852.9 372.6 L852.2 373.1 L851.6 373.6 L850.9 374.1 L850.3 374.6 L849.6 375.0 L849.0 375.5 L848.3 376.0 L847.6 376.5 L847.0 377.0 L846.3 377.5 L845.7 377.9 L845.0 378.4 L844.3 378.9 L843.7 379.4 L843.0 379.9 L842.3 380.3 L841.7 380.8 L841.0 381.3 L840.3 381.8 L839.7 382.2 L839.0 382.7 L838.3 383.2 L837.7 383.7 L837.0 384.1 L836.3 384.6 L835.6 385.1 L835.0 385.5 L834.3 386.0 L833.6 386.5 L832.9 386.9 L832.3 387.4 L831.6 387.9 L830.9 388.3 L830.2 388.8 L829.6 389.3 L828.9 389.7 L828.2 390.2 L827.5 390.6 L826.8 391.1 L826.2 391.6 L825.5 392.0 L824.8 392.5 L824.1 392.9 L823.4 393.4 L822.7 393.8 L822.1 394.3 L821.4 394.7 L820.7 395.2 L820.0 395.6 L819.3 396.1 L818.6 396.5 L817.9 397.0 L817.2 397.4 L816.6 397.9 L815.9 398.3 L815.2 398.8 L814.5 399.2 L813.8 399.7 L813.1 400.1 L812.4 400.5 L811.7 401.0 L811.0 401.4 L810.3 401.9 L809.6 402.3 L808.9 402.7 L808.2 403.2 L807.6 403.6 L806.9 404.1 L806.2 404.5 L805.5 404.9 L804.8 405.4 L804.1 405.8 L803.4 406.2 L802.7 406.7 L802.0 407.1 L801.3 407.5 L800.6 408.0 L799.9 408.4 L799.2 408.8 L798.5 409.3 L797.8 409.7 L797.1 410.1 L796.4 410.5 L795.7 411.0 L795.0 411.4 L794.3 411.8 L793.6 412.2 L792.9 412.7 L792.1 413.1 L791.4 413.5 L790.7 413.9 L790.0 414.4 L789.3 414.8 L788.6 415.2 L787.9 415.6 L787.2 416.1 L786.5 416.5 L785.8 416.9 L785.1 417.3 L784.4 417.7 L783.7 418.2 L783.0 418.6 L782.3 419.0 L781.5 419.4 L780.8 419.8 L780.1 420.2 L779.4 420.6 L778.7 421.1 L778.0 421.5 L777.3 421.9 L776.6 422.3 L775.9 422.7 L775.1 423.1 L774.4 423.5 L773.7 423.9 L773.0 424.4 L772.3 424.8 L771.6 425.2 L770.9 425.6 L770.2 426.0 L769.4 426.4 L768.7 426.8 L768.0 427.2 L767.3 427.6 L766.6 428.0 L765.9 428.4 L765.1 428.8 L764.4 429.2 L763.7 429.6 L763.0 430.1 L762.3 430.5 L761.6 430.9 L760.8 431.3 L760.1 431.7 L759.4 432.1 L758.7 432.5 L758.0 432.9 L757.3 433.3 L756.5 433.7 L755.8 434.1 L755.1 434.5 L754.4 434.9 L753.7 435.3 L752.9 435.6 L752.2 436.0 L751.5 436.4 L750.8 436.8 L750.1 437.2 L749.3 437.6 L748.6 438.0 L747.9 438.4 L747.2 438.8 L746.4 439.2 L745.7 439.6 L745.0 440.0 L744.3 440.4 L743.5 440.8 L742.8 441.1 L742.1 441.5 L741.4 441.9 L740.6 442.3 L739.9 442.7 L739.2 443.1 L738.5 443.5 L737.7 443.9 L737.0 444.2 L736.3 444.6 L735.6 445.0 L734.8 445.4 L734.1 445.8 L733.4 446.2 L732.7 446.5 L731.9 446.9 L731.2 447.3 L730.5 447.7 L729.7 448.1 L729.0 448.4 L728.3 448.8 L727.6 449.2 L726.8 449.6 L726.1 449.9 L725.4 450.3 L724.6 450.7 L723.9 451.1 L723.2 451.4 L722.4 451.8 L721.7 452.2 L721.0 452.6 L720.2 452.9 L719.5 453.3 L718.8 453.7 L718.0 454.0 L717.3 454.4 L716.6 454.8 L715.8 455.2 L715.1 455.5 L714.4 455.9 L713.6 456.3 L712.9 456.6 L712.2 457.0 L711.4 457.3 L710.7 457.7 L710.0 458.1 L709.2 458.4 L708.5 458.8 L707.7 459.2 L707.0 459.5 L706.3 459.9 L705.5 460.2 L704.8 460.6 L704.0 460.9 L703.3 461.3 L702.6 461.7 L701.8 462.0 L701.1 462.4 L700.3 462.7 L699.6 463.1 L698.9 463.4 L698.1 463.8 L697.4 464.1 L696.6 464.5 L695.9 464.8 L695.1 465.2 L694.4 465.5 L693.7 465.9 L692.9 466.2 L692.2 466.5 L691.4 466.9 L690.7 467.2 L689.9 467.6 L689.2 467.9 L688.4 468.3 L687.7 468.6 L686.9 468.9 L686.2 469.3 L685.4 469.6 L684.7 469.9 L683.9 470.3 L683.2 470.6 L682.4 470.9 L681.7 471.3 L680.9 471.6 L680.2 471.9 L679.4 472.3 L678.7 472.6 L677.9 472.9 L677.2 473.2 L676.4 473.6 L675.7 473.9 L674.9 474.2 L674.2 474.5 L673.4 474.9 L672.6 475.2 L671.9 475.5 L671.1 475.8 L670.4 476.1 L669.6 476.5 L668.9 476.8 L668.1 477.1 L667.3 477.4 L666.6 477.7 L665.8 478.0 L665.1 478.3 L664.3 478.6 L663.5 479.0 L662.8 479.3 L662.0 479.6 L661.2 479.9 L660.5 480.2 L659.7 480.5 L659.0 480.8 L658.2 481.1 L657.4 481.4 L656.7 481.7 L655.9 482.0 L655.1 482.3 L654.4 482.6 L653.6 482.9 L652.8 483.2 L652.1 483.5 L651.3 483.8 L650.5 484.1 L649.8 484.4 L649.0 484.6 L648.2 484.9 L647.4 485.2 L646.7 485.5 L645.9 485.8 L645.1 486.1 L644.4 486.4 L643.6 486.7 L642.8 486.9 L642.0 487.2 L641.3 487.5 L640.5 487.8 L639.7 488.1 L638.9 488.3 L638.2 488.6 L637.4 488.9 L636.6 489.2 L635.8 489.5 L635.1 489.7 L634.3 490.0 L633.5 490.3 L632.7 490.5 L632.0 490.8 L631.2 491.1 L630.4 491.4 L629.6 491.6 L628.8 491.9 L628.1 492.2 L627.3 492.4 L626.5 492.7 L625.7 493.0 L624.9 493.2 L624.2 493.5 L623.4 493.8 L622.6 494.0 L621.8 494.3 L621.0 494.6 L620.3 494.8 L619.5 495.1 L618.7 495.3 L617.9 495.6 L617.1 495.9 L616.4 496.1 L615.6 496.4 L614.8 496.6 L614.0 496.9 L613.2 497.2 L612.4 497.4 L611.7 497.7 L610.9 497.9 L610.1 498.2 L609.3 498.4 L608.5 498.7 L607.7 499.0 L607.0 499.2 L606.2 499.5 L605.4 499.7 L604.6 500.0 L603.8 500.2 L603.0 500.5 L602.3 500.8 L601.5 501.0 L600.7 501.3 L599.9 501.5 L599.1 501.8 L598.3 502.1 L597.6 502.3 L596.8 502.6 L596.0 502.8 L595.2 503.1 L594.4 503.4 L593.7 503.6 L592.9 503.9 L592.1 504.2 L591.3 504.4 L590.5 504.7 L589.7 505.0 L588.9 505.3 L588.1 505.6 L587.2 505.9 L586.5 506.2 L585.7 506.4 L584.9 506.7 L584.2 507.0 L583.5 507.2 L582.8 507.4 L582.2 507.7 L581.5 507.9 L580.9 508.1 L580.3 508.3 L579.7 508.5 L579.1 508.7 L578.6 508.9 L578.0 509.0 L577.6 509.2 L577.2 509.3 L576.8 509.4 L576.5 509.5 L577.5 512.5 L577.8 512.4 L578.1 512.3 L578.5 512.1 L579.0 512.0 L579.5 511.8 L580.1 511.6 L580.6 511.4 L581.2 511.2 L581.9 511.0 L582.5 510.8 L583.2 510.6 L583.8 510.4 L584.5 510.1 L585.2 509.9 L585.9 509.6 L586.7 509.4 L587.5 509.1 L588.3 508.8 L589.1 508.5 L589.9 508.2 L590.7 507.9 L591.5 507.7 L592.3 507.4 L593.1 507.1 L593.9 506.9 L594.7 506.6 L595.4 506.3 L596.2 506.1 L597.0 505.8 L597.8 505.6 L598.5 505.3 L599.3 505.0 L600.1 504.8 L600.9 504.5 L601.7 504.3 L602.5 504.0 L603.2 503.7 L604.0 503.5 L604.8 503.2 L605.6 503.0 L606.4 502.7 L607.1 502.5 L607.9 502.2 L608.7 501.9 L609.5 501.7 L610.3 501.4 L611.1 501.2 L611.9 500.9 L612.6 500.7 L613.4 500.4 L614.2 500.1 L615.0 499.9 L615.8 499.6 L616.6 499.4 L617.3 499.1 L618.1 498.9 L618.9 498.6 L619.7 498.3 L620.5 498.1 L621.3 497.8 L622.0 497.6 L622.8 497.3 L623.6 497.0 L624.4 496.8 L625.2 496.5 L626.0 496.2 L626.7 496.0 L627.5 495.7 L628.3 495.4 L629.1 495.2 L629.9 494.9 L630.7 494.6 L631.4 494.4 L632.2 494.1 L633.0 493.8 L633.8 493.6 L634.6 493.3 L635.3 493.0 L636.1 492.7 L636.9 492.5 L637.7 492.2 L638.5 491.9 L639.2 491.6 L640.0 491.3 L640.8 491.1 L641.6 490.8 L642.4 490.5 L643.1 490.2 L643.9 489.9 L644.7 489.7 L645.5 489.4 L646.2 489.1 L647.0 488.8 L647.8 488.5 L648.6 488.2 L649.3 487.9 L650.1 487.7 L650.9 487.4 L651.7 487.1 L652.4 486.8 L653.2 486.5 L654.0 486.2 L654.8 485.9 L655.5 485.6 L656.3 485.3 L657.1 485.0 L657.8 484.7 L658.6 484.4 L659.4 484.1 L660.1 483.8 L660.9 483.5 L661.7 483.2 L662.4 482.9 L663.2 482.6 L664.0 482.3 L664.7 482.0 L665.5 481.6 L666.3 481.3 L667.0 481.0 L667.8 480.7 L668.6 480.4 L669.3 480.1 L670.1 479.8 L670.9 479.5 L671.6 479.1 L672.4 478.8 L673.1 478.5 L673.9 478.2 L674.7 477.9 L675.4 477.5 L676.2 477.2 L676.9 476.9 L677.7 476.6 L678.5 476.2 L679.2 475.9 L680.0 475.6 L680.7 475.3 L681.5 474.9 L682.2 474.6 L683.0 474.3 L683.8 473.9 L684.5 473.6 L685.3 473.3 L686.0 472.9 L686.8 472.6 L687.5 472.3 L688.3 471.9 L689.0 471.6 L689.8 471.2 L690.5 470.9 L691.3 470.6 L692.0 470.2 L692.8 469.9 L693.5 469.5 L694.3 469.2 L695.0 468.8 L695.8 468.5 L696.5 468.2 L697.3 467.8 L698.0 467.5 L698.8 467.1 L699.5 466.8 L700.3 466.4 L701.0 466.1 L701.8 465.7 L702.5 465.4 L703.2 465.0 L704.0 464.6 L704.7 464.3 L705.5 463.9 L706.2 463.6 L707.0 463.2 L707.7 462.9 L708.5 462.5 L709.2 462.1 L709.9 461.8 L710.7 461.4 L711.4 461.1 L712.2 460.7 L712.9 460.3 L713.6 460.0 L714.4 459.6 L715.1 459.2 L715.9 458.9 L716.6 458.5 L717.3 458.1 L718.1 457.8 L718.8 457.4 L719.5 457.0 L720.3 456.7 L721.0 456.3 L721.8 455.9 L722.5 455.6 L723.2 455.2 L724.0 454.8 L724.7 454.4 L725.4 454.1 L726.2 453.7 L726.9 453.3 L727.6 452.9 L728.4 452.6 L729.1 452.2 L729.8 451.8 L730.6 451.4 L731.3 451.1 L732.0 450.7 L732.8 450.3 L733.5 449.9 L734.2 449.5 L735.0 449.2 L735.7 448.8 L736.4 448.4 L737.1 448.0 L737.9 447.6 L738.6 447.2 L739.3 446.9 L740.1 446.5 L740.8 446.1 L741.5 445.7 L742.2 445.3 L743.0 444.9 L743.7 444.5 L744.4 444.1 L745.2 443.8 L745.9 443.4 L746.6 443.0 L747.3 442.6 L748.1 442.2 L748.8 441.8 L749.5 441.4 L750.2 441.0 L751.0 440.6 L751.7 440.2 L752.4 439.8 L753.1 439.4 L753.9 439.1 L754.6 438.7 L755.3 438.3 L756.0 437.9 L756.8 437.5 L757.5 437.1 L758.2 436.7 L758.9 436.3 L759.6 435.9 L760.4 435.5 L761.1 435.1 L761.8 434.7 L762.5 434.3 L763.2 433.9 L764.0 433.5 L764.7 433.1 L765.4 432.7 L766.1 432.3 L766.8 431.9 L767.6 431.5 L768.3 431.0 L769.0 430.6 L769.7 430.2 L770.4 429.8 L771.2 429.4 L771.9 429.0 L772.6 428.6 L773.3 428.2 L774.0 427.8 L774.7 427.4 L775.5 427.0 L776.2 426.6 L776.9 426.1 L777.6 425.7 L778.3 425.3 L779.0 424.9 L779.7 424.5 L780.5 424.1 L781.2 423.7 L781.9 423.3 L782.6 422.8 L783.3 422.4 L784.0 422.0 L784.7 421.6 L785.5 421.2 L786.2 420.8 L786.9 420.3 L787.6 419.9 L788.3 419.5 L789.0 419.1 L789.7 418.7 L790.4 418.2 L791.1 417.8 L791.8 417.4 L792.6 417.0 L793.3 416.6 L794.0 416.1 L794.7 415.7 L795.4 415.3 L796.1 414.9 L796.8 414.4 L797.5 414.0 L798.2 413.6 L798.9 413.1 L799.6 412.7 L800.3 412.3 L801.0 411.9 L801.7 411.4 L802.4 411.0 L803.1 410.6 L803.8 410.1 L804.5 409.7 L805.3 409.3 L806.0 408.8 L806.7 408.4 L807.4 408.0 L808.1 407.5 L808.8 407.1 L809.5 406.7 L810.2 406.2 L810.9 405.8 L811.6 405.3 L812.3 404.9 L812.9 404.5 L813.6 404.0 L814.3 403.6 L815.0 403.1 L815.7 402.7 L816.4 402.2 L817.1 401.8 L817.8 401.3 L818.5 400.9 L819.2 400.5 L819.9 400.0 L820.6 399.6 L821.3 399.1 L822.0 398.7 L822.7 398.2 L823.4 397.8 L824.0 397.3 L824.7 396.9 L825.4 396.4 L826.1 395.9 L826.8 395.5 L827.5 395.0 L828.2 394.6 L828.9 394.1 L829.6 393.7 L830.2 393.2 L830.9 392.7 L831.6 392.3 L832.3 391.8 L833.0 391.4 L833.7 390.9 L834.3 390.4 L835.0 390.0 L835.7 389.5 L836.4 389.0 L837.1 388.6 L837.7 388.1 L838.4 387.6 L839.1 387.2 L839.8 386.7 L840.4 386.2 L841.1 385.7 L841.8 385.3 L842.5 384.8 L843.1 384.3 L843.8 383.8 L844.5 383.4 L845.2 382.9 L845.8 382.4 L846.5 381.9 L847.2 381.4 L847.8 381.0 L848.5 380.5 L849.2 380.0 L849.8 379.5 L850.5 379.0 L851.2 378.5 L851.8 378.0 L852.5 377.5 L853.2 377.1 L853.8 376.6 L854.5 376.1 L855.1 375.6 L855.8 375.1 L856.5 374.6 L857.1 374.1 L857.8 373.6 L858.4 373.1 L859.1 372.6 L859.7 372.1 L860.4 371.6 L861.1 371.1 L861.7 370.6 L862.4 370.1 L863.0 369.6 L863.7 369.1 L864.3 368.6 L865.0 368.0 L865.6 367.5 L866.2 367.0 L866.9 366.5 L867.5 366.0 L868.2 365.5 L868.8 365.0 L869.5 364.5 L870.1 363.9 L870.7 363.4 L871.4 362.9 L872.0 362.4 L872.7 361.8 L873.3 361.3 L873.9 360.8 L874.6 360.3 L875.2 359.7 L875.8 359.2 L876.5 358.7 L877.1 358.1 L877.7 357.6 L878.3 357.1 L879.0 356.5 L879.6 356.0 L880.2 355.5 L880.8 354.9 L881.5 354.4 L882.1 353.9 L882.7 353.3 L883.3 352.8 L883.9 352.2 L884.6 351.7 L885.2 351.1 L885.8 350.6 L886.4 350.0 L887.0 349.5 L887.6 348.9 L888.2 348.4 L888.8 347.8 L889.5 347.3 L890.1 346.7 L890.7 346.1 L891.3 345.6 L891.9 345.0 L892.5 344.5 L893.1 343.9 L893.7 343.3 L894.3 342.8 L894.9 342.2 L895.5 341.6 L896.1 341.0 L896.7 340.5 L897.2 339.9 L897.8 339.3 L898.4 338.7 L899.0 338.2 L899.6 337.6 L900.2 337.0 L900.8 336.4 L901.4 335.8 L901.9 335.3 L902.5 334.7 L903.1 334.1 L903.7 333.5 L904.2 332.9 L904.8 332.3 L905.4 331.7 L906.0 331.1 L906.5 330.5 L907.1 329.9 L907.7 329.3 L908.2 328.7 L908.8 328.1 L909.4 327.5 L909.9 326.9 L910.5 326.3 L911.0 325.7 L911.6 325.1 L912.2 324.5 L912.7 323.9 L913.3 323.3 L913.8 322.7 L914.4 322.0 L914.9 321.4 L915.5 320.8 L916.0 320.2 L916.6 319.6 L917.1 318.9 L917.6 318.3 L918.2 317.7 L918.7 317.1 L919.3 316.4 L919.8 315.8 L920.3 315.2 L920.9 314.5 L921.4 313.9 L921.9 313.3 L922.4 312.6 L923.0 312.0 L923.5 311.4 L924.0 310.7 L924.5 310.1 L925.0 309.4 L925.6 308.8 L926.1 308.1 L926.6 307.5 L927.1 306.8 L927.6 306.2 L928.1 305.5 L928.6 304.9 L929.1 304.2 L929.6 303.6 L930.1 302.9 L930.6 302.3 L931.1 301.6 L931.6 300.9 L932.1 300.3 L932.6 299.6 L933.1 298.9 L933.6 298.3 L934.1 297.6 L934.6 296.9 L935.1 296.3 L935.5 295.6 L936.0 294.9 L936.5 294.2 L937.0 293.6 L937.4 292.9 L937.9 292.2 L938.4 291.5 L938.9 290.8 L939.3 290.1 L939.8 289.5 L940.3 288.8 L940.7 288.1 L941.2 287.4 L941.6 286.7 L942.1 286.0 L942.5 285.3 L943.0 284.6 L943.4 283.9 L943.9 283.2 L944.3 282.5 L944.8 281.8 L945.2 281.1 L945.7 280.4 L946.1 279.7 L946.5 279.0 L947.0 278.3 L947.4 277.6 L947.8 276.9 L948.2 276.2 L948.7 275.5 L949.1 274.7 L949.5 274.0 L949.9 273.3 L950.3 272.6 L950.8 271.9 L951.2 271.1 L951.6 270.4 L952.0 269.7 L952.4 269.0 L952.8 268.3 L953.2 267.5 L953.6 266.8 L954.0 266.1 L954.4 265.3 L954.8 264.6 L955.2 263.9 L955.6 263.1 L955.9 262.4 L956.3 261.7 L956.7 260.9 L957.1 260.2 L957.5 259.4 L957.8 258.7 L958.2 258.0 L958.6 257.2 L958.9 256.5 L959.3 255.7 L959.7 255.0 L960.0 254.2 L960.4 253.5 L960.7 252.7 L961.1 252.0 L961.4 251.2 L961.8 250.5 L962.1 249.7 L962.5 248.9 L962.8 248.2 L963.2 247.4 L963.5 246.7 L963.8 245.9 L964.2 245.1 L964.5 244.4 L964.8 243.6 L965.1 242.8 L965.5 242.1 L965.8 241.3 L966.1 240.5 L966.4 239.8 L966.7 239.0 L967.0 238.2 L967.3 237.4 L967.6 236.7 L967.9 235.9 L968.2 235.1 L968.5 234.3 L968.8 233.6 L969.1 232.8 L969.4 232.0 L969.7 231.2 L970.0 230.4 L970.2 229.6 L970.5 228.9 L970.8 228.1 L971.1 227.3 L971.3 226.5 L971.6 225.7 L971.9 224.9 L972.1 224.1 L972.4 223.3 L972.6 222.5 L972.9 221.8 L973.1 221.0 L973.4 220.2 L973.6 219.4 L973.9 218.6 L974.1 217.8 L974.3 217.0 L974.6 216.2 L974.8 215.4 L975.0 214.6 L975.2 213.8 L975.5 213.0 L975.7 212.2 L975.9 211.4 L976.1 210.6 L976.3 209.8 L976.5 209.0 L976.7 208.1 L976.9 207.3 L977.1 206.5 L977.3 205.7 L977.5 204.9 L977.7 204.1 L977.9 203.3 L978.1 202.5 L978.2 201.7 L978.4 200.9 L978.6 200.0 L978.8 199.2 L978.9 198.4 L979.1 197.6 L979.2 196.8 L979.4 196.0 L979.6 195.2 L979.7 194.3 L979.9 193.5 L980.0 192.7 L980.1 191.9 L980.3 191.1 L980.4 190.2 L980.6 189.4 L980.7 188.6 L980.8 187.8 L980.9 187.0 L981.0 186.1 L981.2 185.3 L981.3 184.5 L981.4 183.7 L981.5 182.9 L981.6 182.0 L981.7 181.2 L981.8 180.4 L981.9 179.6 L982.0 178.7 L982.1 177.9 L982.2 177.1 L982.2 176.3 L982.3 175.4 L982.4 174.6 L982.5 173.8 L982.5 172.9 L982.6 172.1 L982.7 171.3 L982.7 170.5 L982.8 169.6 L982.8 168.8 L982.9 168.0 L982.9 167.1 L982.9 166.3 L983.0 165.5 L983.0 164.7 L983.0 163.8 L983.1 163.0 L983.1 162.2 L983.1 161.3 L983.1 160.5 L983.2 159.7 L983.2 158.9 L983.2 158.0 L983.2 157.2 L983.2 156.4 L983.2 155.5 L983.2 154.7 L983.2 153.9 L983.1 153.0 L983.1 152.2 L983.1 151.4 L983.1 150.5 L983.1 149.7 L983.0 148.9 L983.0 148.1 L982.9 147.2 L982.9 146.4 L982.8 145.6 L982.8 144.7 L982.7 143.9 L982.7 143.1 L982.6 142.3 L982.6 141.4 L982.5 140.6 L982.4 139.8 L982.3 138.9 L982.3 138.1 L982.2 137.3 L982.1 136.5 L982.0 135.6 L981.9 134.8 L981.8 134.0 L981.7 133.2 L981.6 132.3 L981.5 131.5 L981.4 130.7 L981.3 129.9 L981.2 129.0 L981.1 128.2 L980.9 127.4 L980.8 126.6 L980.7 125.7 L980.6 124.9 L980.4 124.1 L980.3 123.3 L980.1 122.5 L980.0 121.6 L979.9 120.8 L979.7 120.0 L979.6 119.2 L979.4 118.4 L979.2 117.5 L979.1 116.7 L978.9 115.9 L978.7 115.1 L978.6 114.3 L978.4 113.5 L978.2 112.6 L978.0 111.8 L977.8 111.0 L977.7 110.2 L977.5 109.4 L977.3 108.6 L977.1 107.8 L976.9 107.0 L976.7 106.1 L976.5 105.3 L976.3 104.5 L976.0 103.7 L975.8 102.9 L975.6 102.1 L975.4 101.3 L975.2 100.5 L974.9 99.7 L974.7 98.9 L974.5 98.1 L974.3 97.3 L974.0 96.5 L973.8 95.7 L973.5 94.9 L973.3 94.1 L973.1 93.3 L972.8 92.5 L972.6 91.7 L972.3 90.9 L972.1 90.1 L971.8 89.3 L971.5 88.5 L971.3 87.7 L971.0 86.9 L970.8 86.1 L970.5 85.3 L970.2 84.5 L969.9 83.7 L969.7 83.0 L969.4 82.2 L969.1 81.4 L968.9 80.6 L968.6 79.8 L968.3 79.0 L968.0 78.2 L967.7 77.5 L967.4 76.7 L967.2 75.9 L966.9 75.1 L966.6 74.3 L966.3 73.6 L966.0 72.8 L965.7 72.0 L965.4 71.2 L965.1 70.5 L964.8 69.7 L964.5 68.9 L964.2 68.1 L963.9 67.4 L963.6 66.6 L963.3 65.8 L962.9 65.1 L962.6 64.3 L962.3 63.5 L962.0 62.8 L961.7 62.0 L961.4 61.2 L961.1 60.5 L960.8 59.7 L960.5 58.9 L960.2 58.2 L959.9 57.4 L959.6 56.7 L959.3 55.9 L959.0 55.2 L958.7 54.4 L958.4 53.6 L958.1 52.9 L957.8 52.1 L957.4 51.3 L957.1 50.4 L956.8 49.5 L956.4 48.7 L956.1 47.8 L955.8 47.0 L955.5 46.2 L955.2 45.5 L955.0 44.8 L954.8 44.3 L954.6 43.8Z" fill="#000"/>
<circle cx="904.6" cy="25.2" r="2.9" fill="#000"/>
<circle cx="952.5" cy="43.75" r="1.8" fill="#000"/>
<path d="M401.9 396.9 C403.0 399.0 405.8 405.6 408.5 409.5 C411.2 413.4 414.4 416.8 418.0 420.0 C421.6 423.2 426.0 426.0 430.0 428.5 C434.0 431.0 437.8 433.2 442.0 435.0 C446.2 436.8 450.7 438.2 455.0 439.5 C459.3 440.8 463.8 442.1 468.0 443.0 C472.2 443.9 476.0 444.4 480.0 444.8 C484.0 445.2 487.8 445.2 492.0 445.2 C496.2 445.1 501.2 445.0 505.0 444.5 C508.8 444.0 513.3 442.4 515.0 442.0" fill="none" stroke="#000" stroke-width="2.0" stroke-linecap="round" stroke-linejoin="round"/>
<path d="M387.5 435.8 L389.9 437.2 L393.3 439.2 L397.3 441.5 L401.6 444.0 L405.9 446.6 L410.0 449.0 L414.1 451.5 L418.7 454.3 L423.2 457.1 L427.4 459.8 L431.0 462.0 L433.6 463.6 L440.0 470.0 L436.7 469.1 L432.0 467.9 L426.5 466.5 L420.6 464.9 L415.0 463.4 L410.0 462.0 L405.5 460.6 L400.9 459.1 L396.5 457.6 L392.5 456.2 L389.2 455.0 L386.7 454.2 Z" fill="#fff" stroke="none"/>
<path d="M387.5 435.8 C391.2 438.0 402.3 444.4 410.0 449.0 C417.7 453.6 429.7 461.2 433.6 463.6" fill="none" stroke="#000" stroke-width="2.8" stroke-linecap="round" stroke-linejoin="round"/>
<path d="M386.7 454.2 C390.6 455.5 401.1 459.4 410.0 462.0 C418.9 464.6 435.0 468.7 440.0 470.0" fill="none" stroke="#000" stroke-width="1.7" stroke-linecap="round" stroke-linejoin="round"/>
<path d="M371.5 425.4 L387.5 435.8 L384.0 446.5 L365.5 436.0 Z" fill="#fff" stroke="none"/>
<path d="M371.5 425.4 C374.2 427.1 384.8 434.1 387.5 435.8" fill="none" stroke="#000" stroke-width="1.8" stroke-linecap="round" stroke-linejoin="round"/>
<path d="M365.5 436.0 C368.6 437.8 380.9 444.8 384.0 446.5" fill="none" stroke="#000" stroke-width="1.8" stroke-linecap="round" stroke-linejoin="round"/>
<path d="M368.5 439.2 L387.0 450.8 L386.7 454.2 L362.0 450.5 Z" fill="#fff" stroke="none"/>
<path d="M368.5 439.2 C371.6 441.1 383.9 448.9 387.0 450.8" fill="none" stroke="#000" stroke-width="1.8" stroke-linecap="round" stroke-linejoin="round"/>
<path d="M362.0 450.5 C366.1 451.1 382.6 453.6 386.7 454.2" fill="none" stroke="#000" stroke-width="1.8" stroke-linecap="round" stroke-linejoin="round"/>
<path d="M387.5 435.8 C388.1 436.9 390.8 440.3 391.2 442.5 C391.6 444.7 390.8 447.2 390.0 449.2 C389.2 451.1 387.2 453.4 386.7 454.2" fill="none" stroke="#000" stroke-width="1.9" stroke-linecap="round" stroke-linejoin="round"/>
<ellipse cx="368.4" cy="430.6" rx="4.6" ry="6.5" transform="rotate(31.8 368.4 430.6)" fill="#fff" stroke="#000" stroke-width="1.7"/><ellipse cx="368.4" cy="430.6" rx="2.1" ry="3.5" transform="rotate(31.8 368.4 430.6)" fill="#fff" stroke="#000" stroke-width="1.1"/>
<line x1="347.9" y1="417.9" x2="368.4" y2="430.6" stroke="#000" stroke-width="6.2"/>
<line x1="347.9" y1="417.9" x2="368.4" y2="430.6" stroke="#fff" stroke-width="3.3"/>
<ellipse cx="347.9" cy="417.9" rx="2.2" ry="3.0" transform="rotate(31.8 347.9 417.9)" fill="#fff" stroke="#000" stroke-width="1.4"/>
<ellipse cx="364.6" cy="444.6" rx="4.6" ry="6.5" transform="rotate(21.9 364.6 444.6)" fill="#fff" stroke="#000" stroke-width="1.7"/><ellipse cx="364.6" cy="444.6" rx="2.1" ry="3.5" transform="rotate(21.9 364.6 444.6)" fill="#fff" stroke="#000" stroke-width="1.1"/>
<line x1="341.7" y1="435.4" x2="364.6" y2="444.6" stroke="#000" stroke-width="6.2"/>
<line x1="341.7" y1="435.4" x2="364.6" y2="444.6" stroke="#fff" stroke-width="3.3"/>
<ellipse cx="341.7" cy="435.4" rx="2.2" ry="3.0" transform="rotate(21.9 341.7 435.4)" fill="#fff" stroke="#000" stroke-width="1.4"/>
<path d="M368.3 456.2 L371.7 456.7 L376.4 457.5 L382.1 458.4 L388.1 459.3 L394.2 460.2 L400.0 461.0 L405.9 461.7 L412.3 462.4 L418.8 463.1 L424.8 463.6 L429.9 464.1 L433.6 464.5 L470.0 482.0 L464.6 482.2 L457.1 482.4 L448.2 482.8 L438.6 483.0 L429.0 483.1 L420.0 483.0 L411.0 482.6 L401.2 481.9 L391.4 481.1 L382.3 480.2 L374.6 479.5 L369.0 479.0 Z" fill="#fff" stroke="none"/>
<path d="M368.3 456.2 C373.6 457.0 389.1 459.6 400.0 461.0 C410.9 462.4 428.0 463.9 433.6 464.5" fill="none" stroke="#000" stroke-width="1.7" stroke-linecap="round" stroke-linejoin="round"/>
<path d="M369.0 479.0 C377.5 479.7 403.2 482.5 420.0 483.0 C436.8 483.5 461.7 482.2 470.0 482.0" fill="none" stroke="#000" stroke-width="1.7" stroke-linecap="round" stroke-linejoin="round"/>
<path d="M346.7 452.5 L368.3 456.2 L370.0 468.3 L349.2 465.0 Z" fill="#fff" stroke="none"/>
<path d="M346.7 452.5 C350.3 453.1 364.7 455.6 368.3 456.2" fill="none" stroke="#000" stroke-width="1.8" stroke-linecap="round" stroke-linejoin="round"/>
<path d="M349.2 465.0 C352.7 465.6 366.5 467.8 370.0 468.3" fill="none" stroke="#000" stroke-width="1.8" stroke-linecap="round" stroke-linejoin="round"/>
<path d="M349.2 466.7 L370.0 468.3 L369.0 479.2 L348.5 479.2 Z" fill="#fff" stroke="none"/>
<path d="M349.2 466.7 C352.7 467.0 366.5 468.0 370.0 468.3" fill="none" stroke="#000" stroke-width="1.8" stroke-linecap="round" stroke-linejoin="round"/>
<path d="M348.5 479.2 C351.9 479.2 365.6 479.2 369.0 479.2" fill="none" stroke="#000" stroke-width="1.8" stroke-linecap="round" stroke-linejoin="round"/>
<path d="M368.3 456.2 C368.9 457.7 371.6 462.5 372.1 465.0 C372.6 467.5 372.0 468.6 371.5 471.0 C371.0 473.4 369.4 477.8 369.0 479.2" fill="none" stroke="#000" stroke-width="1.9" stroke-linecap="round" stroke-linejoin="round"/>
<ellipse cx="345.4" cy="458.7" rx="4.6" ry="6.5" transform="rotate(9.5 345.4 458.7)" fill="#fff" stroke="#000" stroke-width="1.7"/><ellipse cx="345.4" cy="458.7" rx="2.1" ry="3.5" transform="rotate(9.5 345.4 458.7)" fill="#fff" stroke="#000" stroke-width="1.1"/>
<line x1="320.8" y1="454.6" x2="345.4" y2="458.7" stroke="#000" stroke-width="6.2"/>
<line x1="320.8" y1="454.6" x2="345.4" y2="458.7" stroke="#fff" stroke-width="3.3"/>
<ellipse cx="320.8" cy="454.6" rx="2.2" ry="3.0" transform="rotate(9.5 320.8 454.6)" fill="#fff" stroke="#000" stroke-width="1.4"/>
<ellipse cx="346.9" cy="472.9" rx="4.6" ry="6.5" transform="rotate(0.0 346.9 472.9)" fill="#fff" stroke="#000" stroke-width="1.7"/><ellipse cx="346.9" cy="472.9" rx="2.1" ry="3.5" transform="rotate(0.0 346.9 472.9)" fill="#fff" stroke="#000" stroke-width="1.1"/>
<line x1="322.0" y1="472.9" x2="346.9" y2="472.9" stroke="#000" stroke-width="6.2"/>
<line x1="322.0" y1="472.9" x2="346.9" y2="472.9" stroke="#fff" stroke-width="3.3"/>
<ellipse cx="322.0" cy="472.9" rx="2.2" ry="3.0" transform="rotate(0.0 322.0 472.9)" fill="#fff" stroke="#000" stroke-width="1.4"/>
<path d="M358.3 489.2 L361.4 489.1 L365.6 488.8 L370.6 488.6 L376.3 488.4 L382.2 488.5 L388.3 489.0 L395.1 490.0 L403.1 491.5 L411.4 493.3 L419.2 495.0 L425.9 496.6 L430.7 497.6 L430.7 497.6 L427.0 499.2 L421.7 501.4 L415.6 504.1 L409.0 506.7 L402.5 509.1 L396.7 510.8 L391.1 511.8 L385.3 512.4 L379.6 512.7 L374.3 512.8 L369.9 512.8 L366.7 512.9 Z" fill="#fff" stroke="none"/>
<path d="M358.3 489.2 C363.3 489.2 376.2 487.6 388.3 489.0 C400.4 490.4 423.6 496.2 430.7 497.6" fill="none" stroke="#000" stroke-width="1.9" stroke-linecap="round" stroke-linejoin="round"/>
<path d="M366.7 512.9 C371.7 512.5 386.0 513.4 396.7 510.8 C407.4 508.2 425.0 499.8 430.7 497.6" fill="none" stroke="#000" stroke-width="1.9" stroke-linecap="round" stroke-linejoin="round"/>
<path d="M430.7 497.6 C434.8 498.0 446.8 499.2 455.0 500.0 C463.2 500.8 476.0 502.1 480.2 502.5" fill="none" stroke="#000" stroke-width="1.8" stroke-linecap="round" stroke-linejoin="round"/>
<path d="M341.7 489.2 L363.3 490.4 L367.5 503.3 L344.0 503.3 Z" fill="#fff" stroke="none"/>
<path d="M341.7 489.2 C345.3 489.4 359.7 490.2 363.3 490.4" fill="none" stroke="#000" stroke-width="1.8" stroke-linecap="round" stroke-linejoin="round"/>
<path d="M344.0 503.3 C347.9 503.3 363.6 503.3 367.5 503.3" fill="none" stroke="#000" stroke-width="1.8" stroke-linecap="round" stroke-linejoin="round"/>
<path d="M344.0 503.3 L367.5 503.3 L366.7 512.9 L348.3 516.5 Z" fill="#fff" stroke="none"/>
<path d="M344.0 503.3 C347.9 503.3 363.6 503.3 367.5 503.3" fill="none" stroke="#000" stroke-width="1.8" stroke-linecap="round" stroke-linejoin="round"/>
<path d="M348.3 516.5 C351.4 515.9 363.6 513.5 366.7 512.9" fill="none" stroke="#000" stroke-width="1.8" stroke-linecap="round" stroke-linejoin="round"/>
<path d="M363.3 490.0 C364.1 490.8 367.2 493.2 368.2 495.0 C369.2 496.8 369.4 497.9 369.2 500.8 C368.9 503.7 367.1 510.6 366.7 512.5" fill="none" stroke="#000" stroke-width="1.9" stroke-linecap="round" stroke-linejoin="round"/>
<ellipse cx="340.6" cy="496.1" rx="4.6" ry="6.5" transform="rotate(-0.4 340.6 496.1)" fill="#fff" stroke="#000" stroke-width="1.7"/><ellipse cx="340.6" cy="496.1" rx="2.1" ry="3.5" transform="rotate(-0.4 340.6 496.1)" fill="#fff" stroke="#000" stroke-width="1.1"/>
<line x1="316.2" y1="496.2" x2="340.6" y2="496.1" stroke="#000" stroke-width="6.2"/>
<line x1="316.2" y1="496.2" x2="340.6" y2="496.1" stroke="#fff" stroke-width="3.3"/>
<ellipse cx="316.2" cy="496.2" rx="2.2" ry="3.0" transform="rotate(-0.4 316.2 496.2)" fill="#fff" stroke="#000" stroke-width="1.4"/>
<ellipse cx="344.8" cy="510.4" rx="4.6" ry="6.5" transform="rotate(-8.9 344.8 510.4)" fill="#fff" stroke="#000" stroke-width="1.7"/><ellipse cx="344.8" cy="510.4" rx="2.1" ry="3.5" transform="rotate(-8.9 344.8 510.4)" fill="#fff" stroke="#000" stroke-width="1.1"/>
<line x1="320.4" y1="514.2" x2="344.8" y2="510.4" stroke="#000" stroke-width="6.2"/>
<line x1="320.4" y1="514.2" x2="344.8" y2="510.4" stroke="#fff" stroke-width="3.3"/>
<ellipse cx="320.4" cy="514.2" rx="2.2" ry="3.0" transform="rotate(-8.9 320.4 514.2)" fill="#fff" stroke="#000" stroke-width="1.4"/>
<path d="M398.6 455.3 L400.4 455.6 L402.8 456.1 L405.6 456.6 L408.8 457.2 L411.9 457.8 L415.0 458.5 L417.8 459.2 L420.4 460.0 L423.1 460.8 L426.0 461.7 L429.4 462.7 L433.6 463.6 L439.1 464.7 L445.8 465.9 L453.0 467.1 L459.9 468.3 L465.8 469.3 L470.0 470.0 L466.0 473.3 L463.2 473.4 L459.3 473.5 L454.6 473.7 L449.6 473.8 L444.6 473.9 L440.0 473.8 L435.6 473.6 L431.1 473.3 L426.6 473.0 L422.3 472.6 L418.1 472.0 L414.2 471.4 L410.5 470.6 L406.8 469.5 L403.3 468.3 L400.2 467.2 L397.6 466.2 L395.7 465.5 Z" fill="#fff" stroke="none"/>
<path d="M398.6 455.3 C401.3 455.8 409.2 457.1 415.0 458.5 C420.8 459.9 424.4 461.7 433.6 463.6 C442.8 465.5 463.9 468.9 470.0 470.0" fill="none" stroke="#000" stroke-width="1.8" stroke-linecap="round" stroke-linejoin="round"/>
<path d="M395.7 465.5 C398.8 466.5 406.8 470.0 414.2 471.4 C421.6 472.8 431.4 473.5 440.0 473.8 C448.6 474.1 461.7 473.4 466.0 473.3" fill="none" stroke="#000" stroke-width="1.8" stroke-linecap="round" stroke-linejoin="round"/>
<path d="M397.6 467.5 C400.0 469.2 407.3 474.9 412.0 478.0 C416.7 481.1 423.5 484.7 425.8 486.0" fill="none" stroke="#000" stroke-width="1.6" stroke-linecap="round" stroke-linejoin="round"/>
<path d="M389.9 476.7 L391.5 477.2 L393.7 477.8 L396.3 478.5 L399.1 479.4 L402.1 480.2 L405.0 481.0 L407.8 481.9 L410.8 482.9 L413.8 483.9 L416.9 484.8 L420.3 485.6 L423.9 486.0 L427.9 486.1 L432.2 485.9 L436.8 485.5 L441.3 485.0 L445.8 484.5 L450.0 484.0 L454.2 483.5 L458.5 483.0 L462.6 482.4 L466.4 481.8 L469.7 481.3 L472.0 481.0 L478.0 492.8 L475.5 493.0 L472.2 493.2 L468.1 493.5 L463.8 493.8 L459.3 494.2 L455.0 494.5 L450.8 494.9 L446.4 495.4 L441.9 495.9 L437.4 496.3 L433.0 496.6 L428.7 496.6 L424.5 496.3 L420.3 495.8 L416.2 495.2 L412.2 494.4 L408.5 493.7 L405.0 493.0 L401.7 492.3 L398.5 491.5 L395.5 490.7 L392.8 490.0 L390.6 489.4 L388.9 488.9 Z" fill="#fff" stroke="none"/>
<path d="M389.9 476.7 C392.4 477.4 399.3 479.4 405.0 481.0 C410.7 482.6 416.4 485.5 423.9 486.0 C431.4 486.5 442.0 484.8 450.0 484.0 C458.0 483.2 468.3 481.5 472.0 481.0" fill="none" stroke="#000" stroke-width="1.8" stroke-linecap="round" stroke-linejoin="round"/>
<path d="M388.9 488.9 C391.6 489.6 398.4 491.7 405.0 493.0 C411.6 494.3 420.4 496.4 428.7 496.6 C437.0 496.9 446.8 495.1 455.0 494.5 C463.2 493.9 474.2 493.1 478.0 492.8" fill="none" stroke="#000" stroke-width="1.8" stroke-linecap="round" stroke-linejoin="round"/>
<ellipse cx="395.8" cy="459.8" rx="4.6" ry="6.5" transform="rotate(13.5 395.8 459.8)" fill="#fff" stroke="#000" stroke-width="1.7"/><ellipse cx="395.8" cy="459.8" rx="2.1" ry="3.5" transform="rotate(13.5 395.8 459.8)" fill="#fff" stroke="#000" stroke-width="1.1"/>
<line x1="374.2" y1="454.6" x2="395.8" y2="459.8" stroke="#000" stroke-width="6.2"/>
<line x1="374.2" y1="454.6" x2="395.8" y2="459.8" stroke="#fff" stroke-width="3.3"/>
<ellipse cx="374.2" cy="454.6" rx="2.2" ry="3.0" transform="rotate(13.5 374.2 454.6)" fill="#fff" stroke="#000" stroke-width="1.4"/>
<ellipse cx="387.6" cy="481.9" rx="4.6" ry="6.5" transform="rotate(13.2 387.6 481.9)" fill="#fff" stroke="#000" stroke-width="1.7"/><ellipse cx="387.6" cy="481.9" rx="2.1" ry="3.5" transform="rotate(13.2 387.6 481.9)" fill="#fff" stroke="#000" stroke-width="1.1"/>
<line x1="365.4" y1="476.7" x2="387.6" y2="481.9" stroke="#000" stroke-width="6.2"/>
<line x1="365.4" y1="476.7" x2="387.6" y2="481.9" stroke="#fff" stroke-width="3.3"/>
<ellipse cx="365.4" cy="476.7" rx="2.2" ry="3.0" transform="rotate(13.2 365.4 476.7)" fill="#fff" stroke="#000" stroke-width="1.4"/>
<path d="M376.7 519.2 L379.7 518.0 L383.8 516.3 L388.7 514.3 L394.0 512.1 L399.6 510.1 L405.0 508.3 L410.4 506.7 L415.9 505.2 L421.6 503.7 L427.6 502.4 L433.7 501.1 L440.0 500.0 L447.1 499.0 L455.0 498.2 L463.2 497.5 L470.9 496.9 L477.3 496.4 L482.0 496.0 L485.0 512.0 L482.3 512.4 L478.7 512.9 L474.4 513.5 L469.6 514.3 L464.7 515.1 L460.0 516.0 L455.5 516.9 L451.1 517.7 L446.5 518.6 L441.6 519.8 L436.2 521.3 L430.0 523.3 L422.3 526.1 L413.2 529.8 L403.5 533.8 L394.3 537.6 L386.4 541.0 L380.8 543.3 Z" fill="#fff" stroke="none"/>
<path d="M376.7 519.2 C381.4 517.4 394.4 511.5 405.0 508.3 C415.6 505.1 427.2 502.1 440.0 500.0 C452.8 497.9 475.0 496.7 482.0 496.0" fill="none" stroke="#000" stroke-width="2.6" stroke-linecap="round" stroke-linejoin="round"/>
<path d="M380.8 543.3 C389.0 540.0 416.8 527.8 430.0 523.3 C443.2 518.8 450.8 517.9 460.0 516.0 C469.2 514.1 480.8 512.7 485.0 512.0" fill="none" stroke="#000" stroke-width="1.9" stroke-linecap="round" stroke-linejoin="round"/>
<path d="M360.8 524.0 L376.7 519.2 L383.5 531.0 L364.5 537.5 Z" fill="#fff" stroke="none"/>
<path d="M360.8 524.0 C363.4 523.2 374.1 520.0 376.7 519.2" fill="none" stroke="#000" stroke-width="1.8" stroke-linecap="round" stroke-linejoin="round"/>
<path d="M364.5 537.5 C367.7 536.4 380.3 532.1 383.5 531.0" fill="none" stroke="#000" stroke-width="1.8" stroke-linecap="round" stroke-linejoin="round"/>
<path d="M364.5 537.5 L383.5 531.0 L380.8 543.3 L363.3 551.5 Z" fill="#fff" stroke="none"/>
<path d="M364.5 537.5 C367.7 536.4 380.3 532.1 383.5 531.0" fill="none" stroke="#000" stroke-width="1.8" stroke-linecap="round" stroke-linejoin="round"/>
<path d="M363.3 551.5 C366.2 550.1 377.9 544.7 380.8 543.3" fill="none" stroke="#000" stroke-width="1.8" stroke-linecap="round" stroke-linejoin="round"/>
<path d="M376.7 519.2 C377.5 519.8 380.2 521.2 381.5 523.0 C382.8 524.8 383.8 527.7 384.2 530.0 C384.6 532.3 384.8 534.5 384.2 536.7 C383.6 538.9 381.4 542.2 380.8 543.3" fill="none" stroke="#000" stroke-width="1.9" stroke-linecap="round" stroke-linejoin="round"/>
<ellipse cx="359.2" cy="530.4" rx="4.6" ry="6.5" transform="rotate(-13.4 359.2 530.4)" fill="#fff" stroke="#000" stroke-width="1.7"/><ellipse cx="359.2" cy="530.4" rx="2.1" ry="3.5" transform="rotate(-13.4 359.2 530.4)" fill="#fff" stroke="#000" stroke-width="1.1"/>
<line x1="334.6" y1="536.2" x2="359.2" y2="530.4" stroke="#000" stroke-width="6.2"/>
<line x1="334.6" y1="536.2" x2="359.2" y2="530.4" stroke="#fff" stroke-width="3.3"/>
<ellipse cx="334.6" cy="536.2" rx="2.2" ry="3.0" transform="rotate(-13.4 334.6 536.2)" fill="#fff" stroke="#000" stroke-width="1.4"/>
<ellipse cx="361.2" cy="545.8" rx="4.6" ry="6.5" transform="rotate(-19.8 361.2 545.8)" fill="#fff" stroke="#000" stroke-width="1.7"/><ellipse cx="361.2" cy="545.8" rx="2.1" ry="3.5" transform="rotate(-19.8 361.2 545.8)" fill="#fff" stroke="#000" stroke-width="1.1"/>
<line x1="337.9" y1="554.2" x2="361.2" y2="545.8" stroke="#000" stroke-width="6.2"/>
<line x1="337.9" y1="554.2" x2="361.2" y2="545.8" stroke="#fff" stroke-width="3.3"/>
<ellipse cx="337.9" cy="554.2" rx="2.2" ry="3.0" transform="rotate(-19.8 337.9 554.2)" fill="#fff" stroke="#000" stroke-width="1.4"/>
<path d="M455.4 540.0 L454.5 540.9 L453.3 542.0 L451.9 543.4 L450.4 545.0 L448.9 546.8 L447.5 548.8 L446.2 550.9 L444.9 553.2 L443.6 555.8 L442.4 558.4 L441.2 561.1 L440.0 563.8 L438.9 566.4 L437.7 569.3 L436.6 572.1 L435.6 574.9 L434.6 577.6 L433.8 580.0 L432.9 582.3 L432.2 584.5 L431.5 586.5 L430.9 588.3 L430.4 589.9 L430.0 591.0 L441.2 592.5 L441.5 591.4 L441.9 590.0 L442.3 588.2 L442.7 586.3 L443.2 584.4 L443.8 582.5 L444.3 580.7 L444.8 578.9 L445.4 577.0 L446.0 575.1 L446.7 573.2 L447.5 571.2 L448.4 569.2 L449.3 567.1 L450.3 565.0 L451.4 562.9 L452.5 560.8 L453.8 558.8 L455.1 556.7 L456.7 554.7 L458.3 552.8 L459.9 550.9 L461.3 549.1 L462.5 547.5 L463.4 546.1 L464.2 544.7 L464.8 543.5 L465.3 542.5 L465.7 541.7 L466.0 541.0 Z" fill="#fff" stroke="none"/>
<path d="M455.4 540.0 C454.1 541.5 450.1 544.8 447.5 548.8 C444.9 552.7 442.3 558.5 440.0 563.8 C437.7 569.0 435.4 575.5 433.8 580.0 C432.1 584.5 430.6 589.2 430.0 591.0" fill="none" stroke="#000" stroke-width="2.6" stroke-linecap="round" stroke-linejoin="round"/>
<path d="M466.0 541.0 C465.4 542.1 464.5 544.5 462.5 547.5 C460.5 550.5 456.2 554.8 453.8 558.8 C451.2 562.7 449.2 567.3 447.5 571.2 C445.8 575.2 444.8 579.0 443.8 582.5 C442.7 586.0 441.7 590.8 441.2 592.5" fill="none" stroke="#000" stroke-width="2.6" stroke-linecap="round" stroke-linejoin="round"/>
<ellipse cx="435.6" cy="592.2" rx="3.6" ry="6.0" transform="rotate(-76.0 435.6 592.2)" fill="#fff" stroke="#000" stroke-width="1.8"/>
<line x1="431.9" y1="604.4" x2="435.2" y2="593.5" stroke="#000" stroke-width="6.2"/>
<line x1="431.9" y1="604.4" x2="435.2" y2="593.5" stroke="#fff" stroke-width="3.3"/>
<ellipse cx="431.9" cy="604.4" rx="2.2" ry="3.0" transform="rotate(-73.2 431.9 604.4)" fill="#fff" stroke="#000" stroke-width="1.4"/>
<path d="M377.5 558.3 L379.1 557.4 L381.2 556.1 L383.7 554.6 L386.6 552.9 L389.9 551.0 L393.3 549.0 L397.1 546.8 L401.3 544.3 L405.8 541.6 L410.5 538.9 L415.3 536.3 L420.0 533.8 L424.8 531.4 L429.9 529.0 L435.1 526.7 L440.2 524.4 L445.0 522.4 L449.4 520.6 L453.4 519.1 L457.1 517.8 L460.6 516.7 L463.9 515.7 L467.0 514.8 L470.0 514.0 L473.0 513.3 L476.0 512.6 L478.8 512.1 L481.3 511.6 L483.4 511.3 L485.0 511.0 L480.0 538.0 L477.9 538.6 L475.0 539.4 L471.6 540.4 L467.8 541.5 L463.9 542.7 L460.0 544.0 L456.3 545.2 L452.7 546.2 L448.9 547.4 L444.8 548.8 L440.2 550.8 L435.0 553.3 L428.5 557.0 L420.8 561.7 L412.6 566.8 L404.7 571.9 L398.0 576.2 L393.3 579.2 Z" fill="#fff" stroke="none"/>
<path d="M377.5 558.3 C380.1 556.8 386.2 553.1 393.3 549.0 C400.4 544.9 410.6 538.5 420.0 533.8 C429.4 529.1 441.1 523.9 449.4 520.6 C457.7 517.3 464.1 515.6 470.0 514.0 C475.9 512.4 482.5 511.5 485.0 511.0" fill="none" stroke="#000" stroke-width="2.6" stroke-linecap="round" stroke-linejoin="round"/>
<path d="M393.3 579.2 C400.2 574.9 423.9 559.2 435.0 553.3 C446.1 547.4 452.5 546.5 460.0 544.0 C467.5 541.5 476.7 539.0 480.0 538.0" fill="none" stroke="#000" stroke-width="1.8" stroke-linecap="round" stroke-linejoin="round"/>
<path d="M362.5 566.7 L377.5 559.2 L390.8 568.8 L368.3 577.9 Z" fill="#fff" stroke="none"/>
<path d="M362.5 566.7 C365.0 565.5 375.0 560.5 377.5 559.2" fill="none" stroke="#000" stroke-width="1.8" stroke-linecap="round" stroke-linejoin="round"/>
<path d="M368.3 577.9 C372.1 576.4 387.1 570.3 390.8 568.8" fill="none" stroke="#000" stroke-width="1.8" stroke-linecap="round" stroke-linejoin="round"/>
<path d="M368.3 577.9 L390.8 568.8 L393.3 579.2 L376.7 590.5 Z" fill="#fff" stroke="none"/>
<path d="M368.3 577.9 C372.1 576.4 387.1 570.3 390.8 568.8" fill="none" stroke="#000" stroke-width="1.8" stroke-linecap="round" stroke-linejoin="round"/>
<path d="M376.7 590.5 C379.5 588.6 390.5 581.1 393.3 579.2" fill="none" stroke="#000" stroke-width="1.8" stroke-linecap="round" stroke-linejoin="round"/>
<path d="M377.5 559.2 C378.8 559.4 383.1 559.8 385.0 560.5 C386.9 561.2 387.8 561.6 389.2 563.3 C390.6 565.0 392.6 568.1 393.3 570.8 C394.0 573.4 393.3 577.8 393.3 579.2" fill="none" stroke="#000" stroke-width="1.9" stroke-linecap="round" stroke-linejoin="round"/>
<ellipse cx="363.8" cy="572.9" rx="4.6" ry="6.5" transform="rotate(-24.4 363.8 572.9)" fill="#fff" stroke="#000" stroke-width="1.7"/><ellipse cx="363.8" cy="572.9" rx="2.1" ry="3.5" transform="rotate(-24.4 363.8 572.9)" fill="#fff" stroke="#000" stroke-width="1.1"/>
<line x1="341.7" y1="582.9" x2="363.8" y2="572.9" stroke="#000" stroke-width="6.2"/>
<line x1="341.7" y1="582.9" x2="363.8" y2="572.9" stroke="#fff" stroke-width="3.3"/>
<ellipse cx="341.7" cy="582.9" rx="2.2" ry="3.0" transform="rotate(-24.4 341.7 582.9)" fill="#fff" stroke="#000" stroke-width="1.4"/>
<ellipse cx="374.6" cy="585.4" rx="4.6" ry="6.5" transform="rotate(-29.1 374.6 585.4)" fill="#fff" stroke="#000" stroke-width="1.7"/><ellipse cx="374.6" cy="585.4" rx="2.1" ry="3.5" transform="rotate(-29.1 374.6 585.4)" fill="#fff" stroke="#000" stroke-width="1.1"/>
<line x1="352.9" y1="597.5" x2="374.6" y2="585.4" stroke="#000" stroke-width="6.2"/>
<line x1="352.9" y1="597.5" x2="374.6" y2="585.4" stroke="#fff" stroke-width="3.3"/>
<ellipse cx="352.9" cy="597.5" rx="2.2" ry="3.0" transform="rotate(-29.1 352.9 597.5)" fill="#fff" stroke="#000" stroke-width="1.4"/>
<path d="M421 528.4 L428 525.6 L428.6 529.3 L421.6 533.2Z" fill="#000"/>
<path d="M430.7 505.2 L433.3 505.0 L436.9 504.6 L441.2 504.2 L445.8 503.8 L450.5 503.4 L455.0 503.0 L459.7 502.7 L464.8 502.4 L470.0 502.1 L474.9 501.9 L479.0 501.7 L482.0 501.5 L482.2 512.2 L479.2 512.4 L475.1 512.7 L470.2 513.0 L464.9 513.3 L459.7 513.7 L455.0 514.0 L450.4 514.4 L445.5 514.8 L440.6 515.2 L436.2 515.5 L432.4 515.9 L429.7 516.1 Z" fill="#fff" stroke="none"/>
<path d="M430.7 505.2 C434.8 504.8 446.4 503.6 455.0 503.0 C463.6 502.4 477.5 501.8 482.0 501.5" fill="none" stroke="#000" stroke-width="1.8" stroke-linecap="round" stroke-linejoin="round"/>
<path d="M429.7 516.1 C433.9 515.8 446.2 514.6 455.0 514.0 C463.8 513.4 477.7 512.5 482.2 512.2" fill="none" stroke="#000" stroke-width="1.8" stroke-linecap="round" stroke-linejoin="round"/>
<path d="M437.5 528.7 L440.0 528.2 L443.4 527.5 L447.5 526.8 L451.9 525.9 L456.1 525.2 L460.0 524.5 L463.7 524.0 L467.6 523.4 L471.4 523.0 L474.9 522.6 L477.9 522.3 L480.0 522.0 L480.0 523.5 L477.8 524.3 L474.9 525.4 L471.3 526.7 L467.5 528.1 L463.7 529.6 L460.0 531.0 L456.3 532.5 L452.1 534.2 L448.0 536.0 L444.1 537.6 L440.9 539.0 L438.5 540.0 Z" fill="#fff" stroke="none"/>
<path d="M437.5 528.7 C441.2 528.0 452.9 525.6 460.0 524.5 C467.1 523.4 476.7 522.4 480.0 522.0" fill="none" stroke="#000" stroke-width="1.8" stroke-linecap="round" stroke-linejoin="round"/>
<path d="M438.5 540.0 C442.1 538.5 453.1 533.8 460.0 531.0 C466.9 528.2 476.7 524.8 480.0 523.5" fill="none" stroke="#000" stroke-width="1.8" stroke-linecap="round" stroke-linejoin="round"/>
<ellipse cx="427.8" cy="510.6" rx="4.6" ry="6.5" transform="rotate(-1.5 427.8 510.6)" fill="#fff" stroke="#000" stroke-width="1.7"/><ellipse cx="427.8" cy="510.6" rx="2.1" ry="3.5" transform="rotate(-1.5 427.8 510.6)" fill="#fff" stroke="#000" stroke-width="1.1"/>
<line x1="404.9" y1="511.2" x2="427.8" y2="510.6" stroke="#000" stroke-width="6.2"/>
<line x1="404.9" y1="511.2" x2="427.8" y2="510.6" stroke="#fff" stroke-width="3.3"/>
<ellipse cx="404.9" cy="511.2" rx="2.2" ry="3.0" transform="rotate(-1.5 404.9 511.2)" fill="#fff" stroke="#000" stroke-width="1.4"/>
<ellipse cx="437.3" cy="534.3" rx="4.6" ry="6.5" transform="rotate(-19.4 437.3 534.3)" fill="#fff" stroke="#000" stroke-width="1.7"/><ellipse cx="437.3" cy="534.3" rx="2.1" ry="3.5" transform="rotate(-19.4 437.3 534.3)" fill="#fff" stroke="#000" stroke-width="1.1"/>
<line x1="416.6" y1="541.6" x2="437.3" y2="534.3" stroke="#000" stroke-width="6.2"/>
<line x1="416.6" y1="541.6" x2="437.3" y2="534.3" stroke="#fff" stroke-width="3.3"/>
<ellipse cx="416.6" cy="541.6" rx="2.2" ry="3.0" transform="rotate(-19.4 416.6 541.6)" fill="#fff" stroke="#000" stroke-width="1.4"/>
<path d="M453.0 461.0 L480.0 451.0 L530.0 439.0 L559.0 432.0 L575.0 436.0 L588.0 455.0 L591.0 472.0 L587.0 490.0 L583.0 503.0 L560.0 510.0 L530.0 520.0 L500.0 528.0 L486.0 530.0 L488.0 515.0 L487.0 500.0 L481.0 486.0 L468.0 471.0 Z" fill="#fff" stroke="none"/>
<path d="M489.0 512.0 C495.8 510.1 514.1 505.1 530.0 500.8 C545.9 496.6 575.2 488.9 584.2 486.5" fill="none" stroke="#000" stroke-width="1.8" stroke-linecap="round" stroke-linejoin="round"/>
<path d="M484.7 535.3 L486.1 534.6 L488.0 533.7 L490.2 532.6 L492.7 531.3 L495.3 530.0 L498.1 528.6 L500.9 527.2 L503.6 525.9 L506.3 524.6 L508.7 523.4 L510.9 522.3 L513.2 521.2 L515.3 520.2 L517.4 519.1 L519.6 518.1 L521.7 517.1 L523.8 516.1 L526.0 515.1 L528.3 514.0 L530.7 513.0 L533.1 511.9 L535.6 510.8 L538.1 509.7 L540.7 508.6 L543.3 507.5 L546.0 506.4 L548.6 505.3 L551.3 504.2 L553.9 503.1 L556.6 502.0 L559.4 500.9 L562.3 499.7 L565.4 498.4 L568.6 497.2 L571.7 496.0 L574.6 494.9 L577.4 493.8 L579.9 492.8 L581.9 492.0 L583.5 491.4 L582.5 488.6 L580.8 489.2 L578.8 490.0 L576.3 490.9 L573.5 492.0 L570.6 493.1 L567.5 494.3 L564.3 495.5 L561.2 496.7 L558.2 497.9 L555.4 499.0 L552.7 500.1 L550.1 501.2 L547.4 502.3 L544.7 503.4 L542.1 504.5 L539.4 505.6 L536.8 506.8 L534.3 507.9 L531.8 509.0 L529.3 510.0 L527.0 511.1 L524.7 512.2 L522.5 513.2 L520.3 514.2 L518.2 515.3 L516.1 516.3 L513.9 517.3 L511.8 518.4 L509.6 519.5 L507.3 520.6 L504.9 521.8 L502.3 523.1 L499.5 524.5 L496.7 525.9 L493.9 527.3 L491.3 528.6 L488.8 529.9 L486.6 531.0 L484.8 531.9 L483.3 532.7Z" fill="#000"/><circle cx="484.0" cy="534.0" r="1.50" fill="#000"/><circle cx="583.0" cy="490.0" r="1.50" fill="#000"/>
<path d="M478.5 543.2 L480.1 542.5 L482.2 541.6 L484.7 540.6 L487.5 539.4 L490.5 538.2 L493.6 536.8 L496.7 535.5 L499.8 534.2 L502.8 532.9 L505.5 531.7 L508.2 530.6 L510.8 529.4 L513.4 528.2 L516.1 527.0 L518.6 525.8 L521.2 524.7 L523.6 523.6 L526.0 522.6 L528.3 521.6 L530.5 520.8 L532.6 520.1 L534.7 519.4 L536.9 518.9 L538.9 518.3 L540.9 517.9 L542.7 517.5 L544.5 517.1 L546.0 516.8 L547.3 516.5 L548.4 516.3 L547.6 513.3 L546.6 513.6 L545.3 513.9 L543.8 514.2 L542.1 514.6 L540.2 515.1 L538.2 515.5 L536.1 516.1 L533.9 516.7 L531.7 517.4 L529.5 518.2 L527.3 519.0 L524.9 520.0 L522.5 521.1 L520.0 522.2 L517.5 523.3 L514.9 524.5 L512.3 525.7 L509.7 526.9 L507.1 528.1 L504.5 529.3 L501.7 530.4 L498.8 531.7 L495.7 533.0 L492.5 534.4 L489.4 535.7 L486.4 537.0 L483.7 538.2 L481.2 539.2 L479.1 540.1 L477.5 540.8Z" fill="#000"/><circle cx="478.0" cy="542.0" r="1.30" fill="#000"/><circle cx="548.0" cy="514.8" r="1.50" fill="#000"/>
<path d="M535.4 519.1 L536.6 518.7 L538.2 518.1 L540.0 517.4 L542.0 516.6 L544.2 515.8 L546.5 514.9 L548.9 514.0 L551.2 513.1 L553.4 512.2 L555.6 511.4 L557.7 510.6 L560.0 509.8 L562.4 508.9 L564.8 508.0 L567.2 507.2 L569.4 506.4 L571.5 505.6 L573.4 504.9 L575.0 504.4 L576.3 504.0 L574.7 500.0 L573.5 500.6 L572.0 501.2 L570.1 502.0 L568.1 502.9 L565.8 503.8 L563.5 504.8 L561.1 505.8 L558.8 506.8 L556.6 507.7 L554.4 508.6 L552.3 509.5 L550.1 510.4 L547.8 511.3 L545.5 512.3 L543.2 513.2 L541.0 514.2 L539.0 515.0 L537.2 515.7 L535.7 516.4 L534.6 516.9Z" fill="#000"/><circle cx="535.0" cy="518.0" r="1.20" fill="#000"/><circle cx="575.5" cy="502.0" r="2.10" fill="#000"/>
<path d="M434.0 465.1 L436.8 464.4 L440.3 463.4 L444.5 462.2 L449.1 460.8 L454.1 459.4 L459.4 457.9 L464.8 456.4 L470.2 454.9 L475.5 453.5 L480.4 452.2 L485.4 451.1 L490.5 449.9 L495.8 448.8 L501.1 447.6 L506.5 446.5 L511.7 445.4 L516.8 444.4 L521.7 443.4 L526.3 442.4 L530.5 441.4 L534.4 440.5 L538.1 439.6 L541.7 438.7 L545.0 437.9 L548.2 437.0 L551.0 436.3 L553.6 435.6 L555.9 435.0 L557.9 434.4 L559.5 434.0 L558.5 430.0 L556.8 430.4 L554.8 431.0 L552.6 431.6 L550.0 432.3 L547.1 433.1 L544.0 433.9 L540.7 434.8 L537.1 435.7 L533.4 436.6 L529.5 437.6 L525.4 438.5 L520.9 439.5 L516.0 440.6 L510.9 441.7 L505.7 442.8 L500.4 443.9 L495.0 445.1 L489.7 446.3 L484.5 447.5 L479.6 448.8 L474.6 450.1 L469.3 451.5 L463.9 453.0 L458.5 454.6 L453.2 456.1 L448.2 457.6 L443.5 459.0 L439.4 460.2 L435.9 461.3 L433.2 462.1Z" fill="#000"/><circle cx="433.6" cy="463.6" r="1.60" fill="#000"/><circle cx="559.0" cy="432.0" r="2.10" fill="#000"/>
<path d="M453.3 463.9 L453.8 464.1 L454.4 464.4 L455.1 464.6 L455.9 465.0 L456.8 465.3 L457.7 465.7 L458.6 466.1 L459.4 466.5 L460.3 466.8 L461.1 467.2 L461.8 467.6 L462.6 468.0 L463.4 468.3 L464.2 468.7 L464.9 469.0 L465.6 469.4 L466.2 469.8 L466.9 470.2 L467.4 470.6 L468.0 471.0 L468.5 471.5 L469.0 472.1 L469.6 472.7 L470.1 473.4 L470.7 474.1 L471.2 474.8 L471.7 475.5 L472.3 476.3 L472.8 477.0 L473.3 477.7 L473.7 478.4 L474.2 479.1 L474.6 479.8 L475.0 480.4 L475.4 481.1 L475.7 481.7 L476.1 482.4 L476.4 483.1 L476.8 483.7 L477.1 484.4 L477.4 485.0 L477.6 485.7 L477.9 486.3 L478.2 486.9 L478.4 487.6 L478.6 488.3 L478.9 488.9 L479.1 489.6 L479.3 490.3 L479.6 491.0 L479.8 491.7 L480.0 492.4 L480.3 493.1 L480.5 493.8 L480.7 494.5 L480.9 495.1 L481.1 495.8 L481.2 496.5 L481.4 497.1 L481.5 497.7 L481.7 498.3 L481.8 498.9 L481.9 499.6 L482.0 500.2 L482.1 500.8 L482.2 501.4 L482.3 502.0 L482.3 502.6 L482.4 503.3 L482.5 503.9 L482.5 504.6 L482.6 505.3 L482.7 506.0 L482.7 506.6 L482.8 507.3 L482.8 508.0 L482.8 508.6 L482.9 509.3 L482.9 509.9 L482.9 510.5 L482.8 511.1 L482.8 511.7 L482.7 512.4 L482.7 513.0 L482.6 513.7 L482.5 514.3 L482.4 515.0 L482.3 515.7 L482.2 516.4 L482.2 517.2 L482.1 517.9 L482.0 518.6 L482.0 519.3 L481.9 520.0 L481.9 520.7 L481.8 521.3 L481.7 522.0 L481.7 522.6 L481.6 523.3 L481.5 523.9 L481.4 524.6 L481.3 525.3 L481.2 526.0 L481.1 526.7 L481.0 527.4 L480.8 528.0 L480.7 528.6 L480.6 529.2 L480.4 529.8 L480.2 530.4 L480.0 531.0 L479.7 531.6 L479.5 532.2 L479.2 532.7 L479.0 533.2 L478.7 533.8 L478.4 534.3 L478.0 534.8 L477.6 535.3 L477.2 535.8 L476.6 536.3 L476.0 536.9 L475.4 537.6 L474.7 538.2 L473.9 538.8 L473.1 539.5 L472.3 540.1 L471.5 540.7 L470.7 541.2 L469.9 541.7 L469.2 542.3 L468.4 542.9 L467.4 543.5 L466.5 544.1 L465.5 544.7 L464.5 545.3 L463.6 545.8 L462.8 546.3 L462.0 546.7 L461.5 547.1 L464.5 552.9 L465.1 552.7 L465.8 552.4 L466.7 552.0 L467.7 551.6 L468.8 551.2 L469.9 550.7 L471.1 550.1 L472.3 549.5 L473.4 548.9 L474.5 548.3 L475.4 547.5 L476.3 546.8 L477.2 546.0 L478.1 545.2 L478.9 544.4 L479.8 543.5 L480.5 542.7 L481.3 541.9 L482.0 541.0 L482.6 540.2 L483.2 539.4 L483.8 538.6 L484.2 537.8 L484.7 536.9 L485.0 536.2 L485.4 535.4 L485.6 534.6 L485.9 533.9 L486.1 533.2 L486.4 532.4 L486.6 531.7 L486.9 530.8 L487.1 530.0 L487.2 529.3 L487.4 528.5 L487.5 527.7 L487.6 527.0 L487.7 526.3 L487.8 525.6 L487.9 524.9 L488.0 524.1 L488.1 523.4 L488.2 522.7 L488.3 521.9 L488.3 521.2 L488.4 520.5 L488.5 519.8 L488.5 519.2 L488.6 518.5 L488.6 517.8 L488.7 517.2 L488.8 516.5 L488.9 515.8 L489.0 515.2 L489.0 514.4 L489.1 513.7 L489.2 513.0 L489.3 512.2 L489.3 511.5 L489.3 510.7 L489.4 509.9 L489.3 509.1 L489.3 508.4 L489.3 507.6 L489.2 506.9 L489.2 506.1 L489.1 505.4 L489.1 504.7 L489.0 504.0 L488.9 503.3 L488.9 502.6 L488.8 501.9 L488.7 501.2 L488.6 500.5 L488.5 499.8 L488.4 499.1 L488.3 498.4 L488.2 497.7 L488.0 497.0 L487.9 496.3 L487.7 495.5 L487.5 494.8 L487.3 494.1 L487.1 493.3 L486.8 492.6 L486.6 491.8 L486.4 491.1 L486.1 490.4 L485.9 489.7 L485.6 489.0 L485.4 488.3 L485.1 487.6 L484.9 486.9 L484.6 486.1 L484.4 485.4 L484.1 484.7 L483.8 483.9 L483.4 483.1 L483.1 482.4 L482.7 481.6 L482.3 480.9 L481.9 480.1 L481.5 479.4 L481.1 478.7 L480.6 477.9 L480.2 477.2 L479.7 476.5 L479.2 475.7 L478.7 475.0 L478.1 474.3 L477.6 473.5 L477.0 472.8 L476.4 472.0 L475.8 471.2 L475.2 470.5 L474.5 469.7 L473.8 468.9 L473.0 468.1 L472.2 467.4 L471.4 466.8 L470.6 466.2 L469.7 465.6 L468.8 465.1 L467.9 464.7 L467.1 464.4 L466.2 464.0 L465.4 463.7 L464.5 463.4 L463.7 463.1 L462.9 462.8 L462.1 462.5 L461.1 462.1 L460.2 461.8 L459.2 461.5 L458.3 461.2 L457.4 460.9 L456.5 460.7 L455.8 460.4 L455.2 460.3 L454.7 460.1Z" fill="#000"/><circle cx="454.0" cy="462.0" r="2.00" fill="#000"/><circle cx="463.0" cy="550.0" r="3.25" fill="#000"/>
<ellipse cx="470" cy="547" rx="8" ry="4" transform="rotate(-25 470 547)" fill="#000"/>
<path d="M524.8 442.5 L525.1 442.0 L525.5 441.4 L525.9 440.8 L526.3 440.1 L526.8 439.3 L527.3 438.5 L527.8 437.8 L528.4 437.0 L528.9 436.4 L529.4 435.8 L530.0 435.3 L530.5 434.8 L531.1 434.2 L531.7 433.7 L532.3 433.3 L533.0 432.8 L533.6 432.4 L534.3 432.0 L535.0 431.6 L535.7 431.3 L536.5 431.0 L537.3 430.7 L538.2 430.5 L539.1 430.2 L540.1 430.0 L541.1 429.8 L542.1 429.7 L543.1 429.5 L544.1 429.4 L545.1 429.3 L546.2 429.2 L547.3 429.2 L548.3 429.1 L549.4 429.1 L550.5 429.1 L551.6 429.2 L552.7 429.3 L553.7 429.4 L554.7 429.5 L555.6 429.7 L556.6 429.9 L557.4 430.1 L558.3 430.4 L559.1 430.7 L559.8 431.0 L560.6 431.4 L561.4 431.8 L562.1 432.2 L562.9 432.7 L563.7 433.3 L564.5 434.0 L565.4 434.7 L566.2 435.5 L567.1 436.4 L567.9 437.3 L568.8 438.2 L569.6 439.2 L570.5 440.3 L571.3 441.4 L572.1 442.5 L573.0 443.7 L573.8 444.9 L574.7 446.2 L575.6 447.6 L576.4 449.0 L577.2 450.4 L578.0 451.9 L578.8 453.3 L579.5 454.7 L580.1 456.0 L580.7 457.4 L581.2 458.7 L581.7 460.1 L582.2 461.5 L582.6 462.9 L583.0 464.3 L583.3 465.6 L583.7 466.9 L583.9 468.2 L584.2 469.3 L584.4 470.4 L584.6 471.4 L584.7 472.2 L584.8 473.1 L584.8 473.8 L584.9 474.6 L584.8 475.4 L584.8 476.2 L584.8 477.1 L584.7 478.0 L584.6 479.0 L584.5 480.0 L584.4 481.0 L584.2 482.1 L584.1 483.2 L583.8 484.3 L583.6 485.3 L583.4 486.4 L583.1 487.5 L582.8 488.5 L582.6 489.4 L582.3 490.4 L582.0 491.3 L581.6 492.3 L581.3 493.2 L580.9 494.2 L580.5 495.1 L580.1 496.0 L579.7 497.0 L579.3 497.9 L578.9 498.8 L578.6 499.7 L578.2 500.6 L577.8 501.5 L577.5 502.3 L577.1 503.1 L576.7 503.8 L576.4 504.5 L576.0 505.1 L575.6 505.7 L575.1 506.2 L574.6 506.8 L574.1 507.3 L573.6 507.9 L573.0 508.4 L572.4 508.9 L571.8 509.3 L571.1 509.8 L570.5 510.2 L569.9 510.6 L569.2 510.9 L568.6 511.3 L567.9 511.6 L567.2 511.9 L566.4 512.1 L565.7 512.4 L565.0 512.6 L564.2 512.8 L563.5 513.0 L562.7 513.1 L562.0 513.2 L561.3 513.3 L560.6 513.3 L559.8 513.3 L559.1 513.3 L558.3 513.3 L557.5 513.3 L556.7 513.3 L555.9 513.2 L555.1 513.3 L554.3 513.3 L553.5 513.3 L552.7 513.3 L551.8 513.3 L551.0 513.3 L550.3 513.3 L549.6 513.3 L549.0 513.3 L548.5 513.3 L548.0 513.3 L548.0 516.3 L548.4 516.3 L548.9 516.4 L549.5 516.4 L550.2 516.5 L551.0 516.5 L551.7 516.6 L552.6 516.6 L553.4 516.7 L554.2 516.7 L554.9 516.7 L555.7 516.8 L556.4 516.9 L557.2 517.0 L558.0 517.1 L558.8 517.2 L559.7 517.3 L560.5 517.3 L561.4 517.4 L562.4 517.3 L563.3 517.3 L564.2 517.2 L565.0 517.1 L565.9 516.9 L566.8 516.8 L567.7 516.6 L568.6 516.3 L569.5 516.0 L570.4 515.7 L571.3 515.4 L572.1 515.0 L573.0 514.6 L573.8 514.2 L574.6 513.7 L575.5 513.2 L576.3 512.7 L577.1 512.1 L577.8 511.5 L578.6 510.8 L579.3 510.1 L580.0 509.3 L580.7 508.5 L581.3 507.6 L581.9 506.8 L582.4 505.9 L582.9 505.0 L583.4 504.1 L583.8 503.2 L584.2 502.3 L584.6 501.4 L585.1 500.5 L585.5 499.6 L586.0 498.7 L586.4 497.7 L586.9 496.7 L587.3 495.7 L587.8 494.7 L588.2 493.6 L588.6 492.6 L589.0 491.5 L589.4 490.3 L589.7 489.2 L590.0 488.1 L590.3 486.9 L590.6 485.7 L590.8 484.5 L591.1 483.3 L591.3 482.1 L591.4 480.9 L591.6 479.7 L591.7 478.6 L591.7 477.5 L591.8 476.4 L591.8 475.4 L591.8 474.4 L591.7 473.4 L591.6 472.4 L591.5 471.3 L591.3 470.2 L591.1 469.1 L590.8 467.9 L590.5 466.6 L590.1 465.3 L589.7 463.9 L589.3 462.4 L588.8 460.9 L588.3 459.4 L587.7 457.9 L587.1 456.4 L586.4 454.9 L585.7 453.4 L584.9 451.9 L584.1 450.4 L583.2 448.9 L582.3 447.4 L581.4 445.9 L580.4 444.5 L579.4 443.0 L578.4 441.7 L577.4 440.4 L576.5 439.1 L575.5 438.0 L574.5 436.8 L573.5 435.8 L572.5 434.7 L571.4 433.7 L570.4 432.8 L569.4 431.9 L568.4 431.1 L567.3 430.4 L566.3 429.7 L565.3 429.0 L564.3 428.5 L563.3 428.0 L562.3 427.5 L561.4 427.2 L560.4 426.8 L559.4 426.6 L558.4 426.3 L557.4 426.1 L556.4 425.9 L555.3 425.8 L554.1 425.6 L553.0 425.5 L551.8 425.5 L550.6 425.4 L549.4 425.5 L548.2 425.5 L547.1 425.5 L546.0 425.6 L544.9 425.7 L543.8 425.8 L542.7 425.9 L541.6 426.0 L540.5 426.2 L539.4 426.3 L538.3 426.5 L537.3 426.8 L536.2 427.0 L535.2 427.3 L534.3 427.7 L533.3 428.1 L532.4 428.6 L531.6 429.1 L530.8 429.6 L530.0 430.1 L529.3 430.7 L528.6 431.3 L527.9 431.9 L527.2 432.5 L526.6 433.2 L525.9 433.9 L525.3 434.7 L524.7 435.6 L524.1 436.5 L523.6 437.3 L523.1 438.2 L522.7 438.9 L522.3 439.6 L522.0 440.1 L521.8 440.5Z" fill="#000"/><circle cx="523.3" cy="441.5" r="1.80" fill="#000"/><circle cx="548.0" cy="514.8" r="1.50" fill="#000"/>
<polyline points="328.8,244.5 328.8,456.0" fill="none" stroke="#000" stroke-width="2.3"/>
<polyline points="447.5,301.0 447.5,436.0" fill="none" stroke="#000" stroke-width="2.3"/>
<polyline points="757.2,417.0 757.2,469.9 936.3,469.9" fill="none" stroke="#000" stroke-width="2.3"/>
<polyline points="532.4,489.0 532.4,529.4 780.3,529.4" fill="none" stroke="#000" stroke-width="2.3"/>
<polyline points="441.0,576.4 716.9,576.4" fill="none" stroke="#000" stroke-width="2.3"/>
<polyline points="401.9,562.3 401.9,627.8 684.3,627.8" fill="none" stroke="#000" stroke-width="2.3"/>
<text x="269.8" y="234.0" textLength="118.4" lengthAdjust="spacingAndGlyphs">Conductor</text>
<text x="383.3" y="290.0" textLength="149.6" lengthAdjust="spacingAndGlyphs">Ground drain</text>
<text x="952.6" y="475.1" textLength="114.5" lengthAdjust="spacingAndGlyphs">The jacket</text>
<text x="793.9" y="541.1" textLength="189.2" lengthAdjust="spacingAndGlyphs">Aluminum shield</text>
<text x="729.4" y="582.5" textLength="111.7" lengthAdjust="spacingAndGlyphs">Insulation</text>
<text x="695.9" y="636.5" textLength="189.2" lengthAdjust="spacingAndGlyphs">Aluminum shield</text>
</svg>
</body></html>
